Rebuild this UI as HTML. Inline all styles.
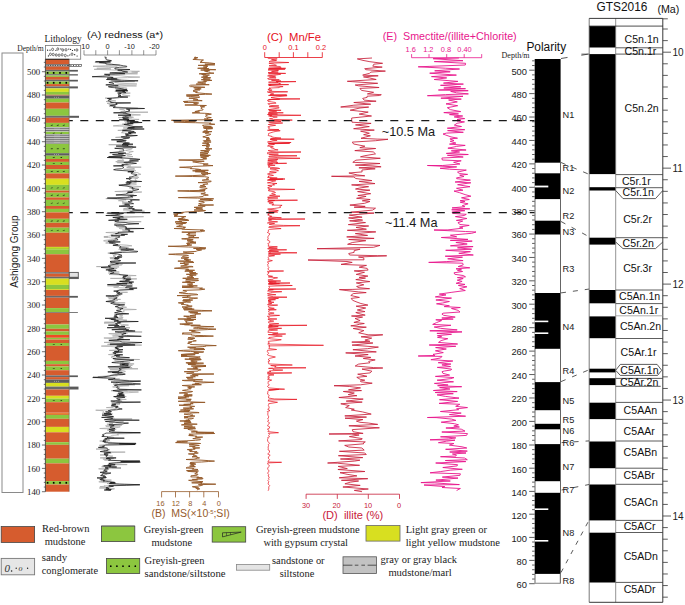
<!DOCTYPE html>
<html><head><meta charset="utf-8"><style>
html,body{margin:0;padding:0;background:#fff;}
svg{display:block;}
</style></head><body>
<svg width="685" height="605" viewBox="0 0 685 605">
<rect width="685" height="605" fill="#fff"/>
<rect x="2.00" y="53.00" width="21.00" height="439.50" fill="none" stroke="#8a8a8a" stroke-width="1"/>
<text transform="translate(18.2,251.5) rotate(-90)" font-size="10" text-anchor="middle" font-family='"Liberation Sans", sans-serif' fill="#222">Ashigong Group</text>
<text x="44.5" y="41.6" font-size="9.6" fill="#222" font-family='"Liberation Serif", serif' textLength="37.3" lengthAdjust="spacingAndGlyphs">Lithology</text>
<text x="17.2" y="50.6" font-size="7.7" fill="#222" font-family='"Liberation Serif", serif' textLength="26.6" lengthAdjust="spacingAndGlyphs">Depth/m</text>
<rect x="45.40" y="45.50" width="35.30" height="13.70" fill="#fff" stroke="#777" stroke-width="0.8"/>
<circle cx="47.6" cy="50.2" r="0.6" fill="#111"/>
<circle cx="50.0" cy="50.2" r="0.6" fill="#111"/>
<ellipse cx="52.6" cy="49.4" rx="1.0" ry="1.25" fill="none" stroke="#222" stroke-width="0.6"/>
<circle cx="55.9" cy="50.5" r="0.6" fill="#111"/>
<ellipse cx="57.8" cy="49.0" rx="1.0" ry="1.25" fill="none" stroke="#222" stroke-width="0.6"/>
<circle cx="60.9" cy="48.9" r="0.6" fill="#111"/>
<ellipse cx="62.8" cy="50.0" rx="1.0" ry="1.25" fill="none" stroke="#222" stroke-width="0.6"/>
<ellipse cx="66.0" cy="49.8" rx="1.0" ry="1.25" fill="none" stroke="#222" stroke-width="0.6"/>
<circle cx="68.8" cy="49.1" r="0.6" fill="#111"/>
<circle cx="70.6" cy="49.3" r="0.6" fill="#111"/>
<circle cx="72.5" cy="50.5" r="0.6" fill="#111"/>
<circle cx="74.6" cy="49.9" r="0.6" fill="#111"/>
<ellipse cx="76.9" cy="50.0" rx="1.0" ry="1.25" fill="none" stroke="#222" stroke-width="0.6"/>
<circle cx="48.4" cy="55.9" r="0.6" fill="#111"/>
<ellipse cx="50.4" cy="54.3" rx="1.0" ry="1.25" fill="none" stroke="#222" stroke-width="0.6"/>
<ellipse cx="53.2" cy="54.5" rx="1.0" ry="1.25" fill="none" stroke="#222" stroke-width="0.6"/>
<ellipse cx="56.2" cy="55.0" rx="1.0" ry="1.25" fill="none" stroke="#222" stroke-width="0.6"/>
<ellipse cx="59.1" cy="55.2" rx="1.0" ry="1.25" fill="none" stroke="#222" stroke-width="0.6"/>
<ellipse cx="62.1" cy="54.8" rx="1.0" ry="1.25" fill="none" stroke="#222" stroke-width="0.6"/>
<ellipse cx="65.3" cy="55.5" rx="1.0" ry="1.25" fill="none" stroke="#222" stroke-width="0.6"/>
<circle cx="67.9" cy="55.8" r="0.6" fill="#111"/>
<circle cx="69.7" cy="55.0" r="0.6" fill="#111"/>
<ellipse cx="72.0" cy="54.2" rx="1.0" ry="1.25" fill="none" stroke="#222" stroke-width="0.6"/>
<circle cx="74.7" cy="54.7" r="0.6" fill="#111"/>
<circle cx="77.1" cy="56.0" r="0.6" fill="#111"/>
<rect x="45.40" y="59.30" width="23.80" height="5.00" fill="#d65c2e" stroke="none" stroke-width="1"/>
<rect x="45.40" y="64.30" width="23.80" height="2.30" fill="#555" stroke="none" stroke-width="1"/>
<rect x="46.50" y="65.05" width="1.00" height="0.80" fill="#eee" stroke="none" stroke-width="1"/>
<rect x="48.90" y="65.05" width="1.00" height="0.80" fill="#eee" stroke="none" stroke-width="1"/>
<rect x="51.30" y="65.05" width="1.00" height="0.80" fill="#eee" stroke="none" stroke-width="1"/>
<rect x="53.70" y="65.05" width="1.00" height="0.80" fill="#eee" stroke="none" stroke-width="1"/>
<rect x="56.10" y="65.05" width="1.00" height="0.80" fill="#eee" stroke="none" stroke-width="1"/>
<rect x="58.50" y="65.05" width="1.00" height="0.80" fill="#eee" stroke="none" stroke-width="1"/>
<rect x="60.90" y="65.05" width="1.00" height="0.80" fill="#eee" stroke="none" stroke-width="1"/>
<rect x="63.30" y="65.05" width="1.00" height="0.80" fill="#eee" stroke="none" stroke-width="1"/>
<rect x="65.70" y="65.05" width="1.00" height="0.80" fill="#eee" stroke="none" stroke-width="1"/>
<rect x="69.20" y="64.40" width="12.10" height="2.10" fill="#fff" stroke="#333" stroke-width="0.6"/>
<rect x="70.50" y="65.05" width="0.90" height="0.80" fill="#111" stroke="none" stroke-width="1"/>
<rect x="73.10" y="65.05" width="0.90" height="0.80" fill="#111" stroke="none" stroke-width="1"/>
<rect x="75.70" y="65.05" width="0.90" height="0.80" fill="#111" stroke="none" stroke-width="1"/>
<rect x="78.30" y="65.05" width="0.90" height="0.80" fill="#111" stroke="none" stroke-width="1"/>
<rect x="45.40" y="66.60" width="23.80" height="3.30" fill="#d65c2e" stroke="none" stroke-width="1"/>
<rect x="45.40" y="69.90" width="23.80" height="1.70" fill="#6a6a6a" stroke="none" stroke-width="1"/>
<rect x="69.20" y="69.90" width="8.70" height="1.70" fill="#5a5a5a" stroke="none" stroke-width="1"/>
<rect x="45.40" y="71.60" width="23.80" height="2.60" fill="#8cc63f" stroke="none" stroke-width="1"/>
<rect x="46.800000000000004" y="72.00" width="1.6" height="1.8" fill="#000"/>
<rect x="52.900000000000006" y="72.00" width="1.6" height="1.8" fill="#000"/>
<rect x="59.2" y="72.00" width="1.6" height="1.8" fill="#000"/>
<rect x="65.5" y="72.00" width="1.6" height="1.8" fill="#000"/>
<rect x="45.40" y="74.20" width="23.80" height="1.30" fill="#6a6a6a" stroke="none" stroke-width="1"/>
<rect x="69.20" y="74.20" width="8.70" height="1.30" fill="#5a5a5a" stroke="none" stroke-width="1"/>
<rect x="45.40" y="75.50" width="23.80" height="1.40" fill="#8cc63f" stroke="none" stroke-width="1"/>
<rect x="45.40" y="76.90" width="23.80" height="2.90" fill="#d65c2e" stroke="none" stroke-width="1"/>
<rect x="45.40" y="79.80" width="23.80" height="1.70" fill="#6a6a6a" stroke="none" stroke-width="1"/>
<rect x="69.20" y="79.80" width="8.70" height="1.70" fill="#5a5a5a" stroke="none" stroke-width="1"/>
<rect x="45.40" y="81.50" width="23.80" height="2.60" fill="#8cc63f" stroke="none" stroke-width="1"/>
<rect x="46.800000000000004" y="81.90" width="1.6" height="1.8" fill="#000"/>
<rect x="52.900000000000006" y="81.90" width="1.6" height="1.8" fill="#000"/>
<rect x="59.2" y="81.90" width="1.6" height="1.8" fill="#000"/>
<rect x="65.5" y="81.90" width="1.6" height="1.8" fill="#000"/>
<rect x="45.40" y="84.10" width="23.80" height="2.30" fill="#d65c2e" stroke="none" stroke-width="1"/>
<rect x="45.40" y="86.40" width="23.80" height="2.00" fill="#6a6a6a" stroke="none" stroke-width="1"/>
<rect x="69.20" y="86.40" width="8.70" height="2.00" fill="#5a5a5a" stroke="none" stroke-width="1"/>
<rect x="45.40" y="88.40" width="23.80" height="3.50" fill="#d8df20" stroke="none" stroke-width="1"/>
<rect x="45.40" y="91.90" width="23.80" height="2.90" fill="#8cc63f" stroke="none" stroke-width="1"/>
<rect x="45.40" y="94.80" width="23.80" height="0.80" fill="#d65c2e" stroke="none" stroke-width="1"/>
<rect x="45.40" y="95.60" width="23.80" height="3.10" fill="#5e5e5e" stroke="none" stroke-width="1"/>
<circle cx="54.5" cy="97.15" r="0.45" fill="#ddd"/>
<circle cx="56.5" cy="97.15" r="0.45" fill="#ddd"/>
<circle cx="58.5" cy="97.15" r="0.45" fill="#ddd"/>
<rect x="45.40" y="98.70" width="23.80" height="3.80" fill="#8cc63f" stroke="none" stroke-width="1"/>
<rect x="45.40" y="102.50" width="23.80" height="6.30" fill="#d65c2e" stroke="none" stroke-width="1"/>
<rect x="45.40" y="108.80" width="23.80" height="7.00" fill="#8cc63f" stroke="none" stroke-width="1"/>
<rect x="45.40" y="115.80" width="23.80" height="2.00" fill="#6a6a6a" stroke="none" stroke-width="1"/>
<rect x="69.20" y="115.80" width="9.80" height="2.00" fill="#5a5a5a" stroke="none" stroke-width="1"/>
<rect x="45.40" y="117.80" width="23.80" height="5.10" fill="#d65c2e" stroke="none" stroke-width="1"/>
<rect x="45.40" y="122.90" width="23.80" height="4.30" fill="#8cc63f" stroke="none" stroke-width="1"/>
<path d="M50.3,125.6 L52.7,124.6 L52.3,125.7Z" fill="#111"/>
<path d="M56.3,125.6 L58.7,124.6 L58.3,125.7Z" fill="#111"/>
<path d="M62.3,125.6 L64.7,124.6 L64.3,125.7Z" fill="#111"/>
<rect x="45.40" y="127.20" width="23.80" height="4.60" fill="#bdbdbd" stroke="none" stroke-width="1"/>
<rect x="45.40" y="127.90" width="23.80" height="0.90" fill="#6f6f6f" stroke="none" stroke-width="1"/>
<rect x="45.40" y="130.10" width="23.80" height="0.90" fill="#6f6f6f" stroke="none" stroke-width="1"/>
<circle cx="55.0" cy="128.80" r="0.35" fill="#fff"/>
<circle cx="55.0" cy="131.00" r="0.35" fill="#fff"/>
<circle cx="57.0" cy="128.80" r="0.35" fill="#fff"/>
<circle cx="57.0" cy="131.00" r="0.35" fill="#fff"/>
<circle cx="59.0" cy="128.80" r="0.35" fill="#fff"/>
<circle cx="59.0" cy="131.00" r="0.35" fill="#fff"/>
<rect x="45.40" y="131.80" width="23.80" height="2.30" fill="#8cc63f" stroke="none" stroke-width="1"/>
<path d="M52.3,133.4 L54.7,132.4 L54.3,133.5Z" fill="#111"/>
<path d="M59.8,133.4 L62.2,132.4 L61.8,133.5Z" fill="#111"/>
<rect x="45.40" y="134.10" width="23.80" height="9.80" fill="#bdbdbd" stroke="none" stroke-width="1"/>
<rect x="45.40" y="134.80" width="23.80" height="0.90" fill="#6f6f6f" stroke="none" stroke-width="1"/>
<rect x="45.40" y="137.00" width="23.80" height="0.90" fill="#6f6f6f" stroke="none" stroke-width="1"/>
<rect x="45.40" y="139.20" width="23.80" height="0.90" fill="#6f6f6f" stroke="none" stroke-width="1"/>
<rect x="45.40" y="141.40" width="23.80" height="0.90" fill="#6f6f6f" stroke="none" stroke-width="1"/>
<rect x="45.40" y="143.60" width="23.80" height="0.90" fill="#6f6f6f" stroke="none" stroke-width="1"/>
<circle cx="55.0" cy="135.70" r="0.35" fill="#fff"/>
<circle cx="55.0" cy="137.90" r="0.35" fill="#fff"/>
<circle cx="55.0" cy="140.10" r="0.35" fill="#fff"/>
<circle cx="55.0" cy="142.30" r="0.35" fill="#fff"/>
<circle cx="57.0" cy="135.70" r="0.35" fill="#fff"/>
<circle cx="57.0" cy="137.90" r="0.35" fill="#fff"/>
<circle cx="57.0" cy="140.10" r="0.35" fill="#fff"/>
<circle cx="57.0" cy="142.30" r="0.35" fill="#fff"/>
<circle cx="59.0" cy="135.70" r="0.35" fill="#fff"/>
<circle cx="59.0" cy="137.90" r="0.35" fill="#fff"/>
<circle cx="59.0" cy="140.10" r="0.35" fill="#fff"/>
<circle cx="59.0" cy="142.30" r="0.35" fill="#fff"/>
<rect x="45.40" y="143.90" width="23.80" height="9.30" fill="#8cc63f" stroke="none" stroke-width="1"/>
<path d="M50.3,149.1 L52.7,148.1 L52.3,149.2Z" fill="#111"/>
<path d="M56.3,149.1 L58.7,148.1 L58.3,149.2Z" fill="#111"/>
<path d="M62.3,149.1 L64.7,148.1 L64.3,149.2Z" fill="#111"/>
<rect x="45.40" y="153.20" width="23.80" height="2.50" fill="#5e5e5e" stroke="none" stroke-width="1"/>
<circle cx="54.5" cy="154.45" r="0.45" fill="#ddd"/>
<circle cx="56.5" cy="154.45" r="0.45" fill="#ddd"/>
<circle cx="58.5" cy="154.45" r="0.45" fill="#ddd"/>
<rect x="45.40" y="155.70" width="23.80" height="3.30" fill="#8cc63f" stroke="none" stroke-width="1"/>
<path d="M52.3,157.8 L54.7,156.8 L54.3,157.9Z" fill="#111"/>
<path d="M59.8,157.8 L62.2,156.8 L61.8,157.9Z" fill="#111"/>
<rect x="45.40" y="159.00" width="23.80" height="2.90" fill="#d65c2e" stroke="none" stroke-width="1"/>
<rect x="45.40" y="161.90" width="23.80" height="3.10" fill="#8cc63f" stroke="none" stroke-width="1"/>
<path d="M52.3,163.9 L54.7,162.9 L54.3,164.0Z" fill="#111"/>
<path d="M59.8,163.9 L62.2,162.9 L61.8,164.0Z" fill="#111"/>
<rect x="45.40" y="165.00" width="23.80" height="4.20" fill="#d65c2e" stroke="none" stroke-width="1"/>
<rect x="45.40" y="169.20" width="23.80" height="4.20" fill="#8cc63f" stroke="none" stroke-width="1"/>
<path d="M50.3,171.8 L52.7,170.8 L52.3,171.9Z" fill="#111"/>
<path d="M56.3,171.8 L58.7,170.8 L58.3,171.9Z" fill="#111"/>
<path d="M62.3,171.8 L64.7,170.8 L64.3,171.9Z" fill="#111"/>
<rect x="45.40" y="173.40" width="23.80" height="5.30" fill="#d65c2e" stroke="none" stroke-width="1"/>
<rect x="45.40" y="178.70" width="23.80" height="6.20" fill="#d8df20" stroke="none" stroke-width="1"/>
<rect x="45.40" y="184.90" width="23.80" height="5.70" fill="#8cc63f" stroke="none" stroke-width="1"/>
<path d="M50.3,188.2 L52.7,187.2 L52.3,188.3Z" fill="#111"/>
<path d="M56.3,188.2 L58.7,187.2 L58.3,188.3Z" fill="#111"/>
<path d="M62.3,188.2 L64.7,187.2 L64.3,188.3Z" fill="#111"/>
<rect x="45.40" y="190.60" width="23.80" height="2.10" fill="#d65c2e" stroke="none" stroke-width="1"/>
<rect x="45.40" y="192.70" width="23.80" height="4.70" fill="#8cc63f" stroke="none" stroke-width="1"/>
<path d="M50.3,195.6 L52.7,194.6 L52.3,195.7Z" fill="#111"/>
<path d="M56.3,195.6 L58.7,194.6 L58.3,195.7Z" fill="#111"/>
<path d="M62.3,195.6 L64.7,194.6 L64.3,195.7Z" fill="#111"/>
<rect x="45.40" y="197.40" width="23.80" height="2.50" fill="#d65c2e" stroke="none" stroke-width="1"/>
<rect x="45.40" y="199.90" width="23.80" height="6.10" fill="#8cc63f" stroke="none" stroke-width="1"/>
<path d="M50.3,203.4 L52.7,202.4 L52.3,203.5Z" fill="#111"/>
<path d="M56.3,203.4 L58.7,202.4 L58.3,203.5Z" fill="#111"/>
<path d="M62.3,203.4 L64.7,202.4 L64.3,203.5Z" fill="#111"/>
<rect x="45.40" y="206.00" width="23.80" height="2.90" fill="#d65c2e" stroke="none" stroke-width="1"/>
<rect x="45.40" y="208.90" width="23.80" height="3.50" fill="#8cc63f" stroke="none" stroke-width="1"/>
<rect x="45.40" y="212.40" width="23.80" height="6.40" fill="#d65c2e" stroke="none" stroke-width="1"/>
<rect x="45.40" y="218.80" width="23.80" height="4.00" fill="#8cc63f" stroke="none" stroke-width="1"/>
<path d="M50.3,221.3 L52.7,220.3 L52.3,221.4Z" fill="#111"/>
<path d="M56.3,221.3 L58.7,220.3 L58.3,221.4Z" fill="#111"/>
<path d="M62.3,221.3 L64.7,220.3 L64.3,221.4Z" fill="#111"/>
<rect x="45.40" y="222.80" width="23.80" height="4.90" fill="#d65c2e" stroke="none" stroke-width="1"/>
<rect x="45.40" y="227.70" width="23.80" height="5.00" fill="#8cc63f" stroke="none" stroke-width="1"/>
<path d="M50.3,230.7 L52.7,229.7 L52.3,230.8Z" fill="#111"/>
<path d="M56.3,230.7 L58.7,229.7 L58.3,230.8Z" fill="#111"/>
<path d="M62.3,230.7 L64.7,229.7 L64.3,230.8Z" fill="#111"/>
<rect x="45.40" y="232.70" width="23.80" height="14.20" fill="#d65c2e" stroke="none" stroke-width="1"/>
<rect x="45.40" y="246.90" width="23.80" height="2.70" fill="#8cc63f" stroke="none" stroke-width="1"/>
<rect x="45.40" y="247.20" width="23.80" height="0.80" fill="#d8df20" stroke="none" stroke-width="1"/>
<rect x="45.40" y="248.60" width="23.80" height="0.70" fill="#d8df20" stroke="none" stroke-width="1"/>
<rect x="45.40" y="249.60" width="23.80" height="4.70" fill="#8cc63f" stroke="none" stroke-width="1"/>
<rect x="45.40" y="254.30" width="23.80" height="17.90" fill="#d65c2e" stroke="none" stroke-width="1"/>
<rect x="45.40" y="272.20" width="23.80" height="1.50" fill="#6a6a6a" stroke="none" stroke-width="1"/>
<rect x="69.20" y="272.40" width="9.10" height="6.20" fill="#e2e2e2" stroke="#555" stroke-width="0.9"/>
<rect x="45.40" y="273.70" width="23.80" height="3.10" fill="#d65c2e" stroke="none" stroke-width="1"/>
<rect x="45.40" y="276.80" width="23.80" height="1.80" fill="#6a6a6a" stroke="none" stroke-width="1"/>
<rect x="69.20" y="276.80" width="9.10" height="1.80" fill="#5a5a5a" stroke="none" stroke-width="1"/>
<rect x="45.40" y="278.60" width="23.80" height="6.30" fill="#d8df20" stroke="none" stroke-width="1"/>
<rect x="45.40" y="284.90" width="23.80" height="4.10" fill="#8cc63f" stroke="none" stroke-width="1"/>
<rect x="45.40" y="289.00" width="23.80" height="0.90" fill="#d8df20" stroke="none" stroke-width="1"/>
<rect x="45.40" y="289.90" width="23.80" height="6.00" fill="#d65c2e" stroke="none" stroke-width="1"/>
<rect x="45.40" y="295.90" width="23.80" height="1.80" fill="#6a6a6a" stroke="none" stroke-width="1"/>
<rect x="69.20" y="295.90" width="8.70" height="1.80" fill="#5a5a5a" stroke="none" stroke-width="1"/>
<rect x="45.40" y="297.70" width="23.80" height="10.40" fill="#d65c2e" stroke="none" stroke-width="1"/>
<rect x="45.40" y="308.10" width="23.80" height="4.00" fill="#8cc63f" stroke="none" stroke-width="1"/>
<rect x="45.40" y="312.10" width="23.80" height="0.80" fill="#6a6a6a" stroke="none" stroke-width="1"/>
<rect x="69.20" y="312.10" width="8.70" height="0.80" fill="#5a5a5a" stroke="none" stroke-width="1"/>
<rect x="45.40" y="312.90" width="23.80" height="11.60" fill="#d65c2e" stroke="none" stroke-width="1"/>
<rect x="45.40" y="324.50" width="23.80" height="4.30" fill="#8cc63f" stroke="none" stroke-width="1"/>
<rect x="45.40" y="328.80" width="23.80" height="2.60" fill="#d65c2e" stroke="none" stroke-width="1"/>
<rect x="45.40" y="331.40" width="23.80" height="3.50" fill="#8cc63f" stroke="none" stroke-width="1"/>
<rect x="45.40" y="334.90" width="23.80" height="2.90" fill="#f04a25" stroke="none" stroke-width="1"/>
<rect x="45.40" y="337.80" width="23.80" height="1.70" fill="#8cc63f" stroke="none" stroke-width="1"/>
<rect x="45.40" y="339.50" width="23.80" height="3.50" fill="#d65c2e" stroke="none" stroke-width="1"/>
<rect x="45.40" y="343.00" width="23.80" height="2.90" fill="#8cc63f" stroke="none" stroke-width="1"/>
<path d="M52.3,344.9 L54.7,343.9 L54.3,345.1Z" fill="#111"/>
<path d="M59.8,344.9 L62.2,343.9 L61.8,345.1Z" fill="#111"/>
<rect x="45.40" y="345.90" width="23.80" height="15.00" fill="#d65c2e" stroke="none" stroke-width="1"/>
<rect x="45.40" y="360.90" width="23.80" height="3.30" fill="#8cc63f" stroke="none" stroke-width="1"/>
<rect x="45.40" y="364.20" width="23.80" height="2.30" fill="#d65c2e" stroke="none" stroke-width="1"/>
<rect x="45.40" y="366.50" width="23.80" height="3.70" fill="#8cc63f" stroke="none" stroke-width="1"/>
<path d="M52.3,368.9 L54.7,367.9 L54.3,369.0Z" fill="#111"/>
<path d="M59.8,368.9 L62.2,367.9 L61.8,369.0Z" fill="#111"/>
<rect x="45.40" y="370.20" width="23.80" height="5.20" fill="#d65c2e" stroke="none" stroke-width="1"/>
<rect x="45.40" y="375.40" width="23.80" height="1.70" fill="#6a6a6a" stroke="none" stroke-width="1"/>
<rect x="69.20" y="375.40" width="8.70" height="1.70" fill="#5a5a5a" stroke="none" stroke-width="1"/>
<rect x="45.40" y="377.10" width="23.80" height="2.50" fill="#d65c2e" stroke="none" stroke-width="1"/>
<rect x="45.40" y="379.60" width="23.80" height="3.30" fill="#5e5e5e" stroke="none" stroke-width="1"/>
<circle cx="54.5" cy="381.25" r="0.45" fill="#ddd"/>
<circle cx="56.5" cy="381.25" r="0.45" fill="#ddd"/>
<circle cx="58.5" cy="381.25" r="0.45" fill="#ddd"/>
<rect x="45.40" y="382.90" width="23.80" height="3.70" fill="#d8df20" stroke="none" stroke-width="1"/>
<rect x="45.40" y="386.60" width="23.80" height="2.90" fill="#6a6a6a" stroke="none" stroke-width="1"/>
<rect x="69.20" y="386.60" width="9.30" height="2.90" fill="#5a5a5a" stroke="none" stroke-width="1"/>
<rect x="45.40" y="389.50" width="23.80" height="6.30" fill="#d65c2e" stroke="none" stroke-width="1"/>
<rect x="45.40" y="395.80" width="23.80" height="2.90" fill="#d8df20" stroke="none" stroke-width="1"/>
<rect x="45.40" y="398.70" width="23.80" height="3.50" fill="#8cc63f" stroke="none" stroke-width="1"/>
<path d="M52.3,400.9 L54.7,399.9 L54.3,401.1Z" fill="#111"/>
<path d="M59.8,400.9 L62.2,399.9 L61.8,401.1Z" fill="#111"/>
<rect x="45.40" y="402.20" width="23.80" height="10.40" fill="#d65c2e" stroke="none" stroke-width="1"/>
<rect x="45.40" y="412.60" width="23.80" height="2.30" fill="#d65c2e" stroke="none" stroke-width="1"/>
<rect x="45.40" y="413.20" width="23.80" height="1.00" fill="#f08a3a" stroke="none" stroke-width="1"/>
<rect x="45.40" y="414.90" width="23.80" height="3.90" fill="#8cc63f" stroke="none" stroke-width="1"/>
<rect x="45.40" y="418.80" width="23.80" height="8.10" fill="#d65c2e" stroke="none" stroke-width="1"/>
<rect x="45.40" y="426.90" width="23.80" height="5.40" fill="#d8df20" stroke="none" stroke-width="1"/>
<rect x="45.40" y="432.30" width="23.80" height="9.90" fill="#d65c2e" stroke="none" stroke-width="1"/>
<rect x="45.40" y="442.20" width="23.80" height="2.60" fill="#8cc63f" stroke="none" stroke-width="1"/>
<rect x="45.40" y="444.80" width="23.80" height="13.90" fill="#d65c2e" stroke="none" stroke-width="1"/>
<rect x="45.40" y="458.70" width="23.80" height="4.70" fill="#8cc63f" stroke="none" stroke-width="1"/>
<rect x="45.40" y="463.40" width="23.80" height="17.70" fill="#d65c2e" stroke="none" stroke-width="1"/>
<rect x="45.40" y="481.10" width="23.80" height="3.40" fill="#8cc63f" stroke="none" stroke-width="1"/>
<rect x="46.800000000000004" y="481.90" width="1.6" height="1.8" fill="#000"/>
<rect x="52.900000000000006" y="481.90" width="1.6" height="1.8" fill="#000"/>
<rect x="59.2" y="481.90" width="1.6" height="1.8" fill="#000"/>
<rect x="65.5" y="481.90" width="1.6" height="1.8" fill="#000"/>
<rect x="45.40" y="484.50" width="23.80" height="7.20" fill="#d65c2e" stroke="none" stroke-width="1"/>
<line x1="45.40" y1="59.30" x2="69.20" y2="59.30" stroke="#111" stroke-width="0.9"/>
<line x1="45.40" y1="59.30" x2="45.40" y2="491.70" stroke="#333" stroke-width="0.8"/>
<line x1="69.20" y1="59.30" x2="69.20" y2="491.70" stroke="#555" stroke-width="0.5"/>
<line x1="43.80" y1="62.37" x2="45.40" y2="62.37" stroke="#333" stroke-width="0.7"/>
<line x1="43.80" y1="67.03" x2="45.40" y2="67.03" stroke="#333" stroke-width="0.7"/>
<line x1="41.90" y1="71.70" x2="45.40" y2="71.70" stroke="#333" stroke-width="0.7"/>
<text x="40.2" y="75.0" font-size="9.0" fill="#222" font-family='"Liberation Serif", serif' text-anchor="end" textLength="13.2" lengthAdjust="spacingAndGlyphs">500</text>
<line x1="43.80" y1="76.37" x2="45.40" y2="76.37" stroke="#333" stroke-width="0.7"/>
<line x1="43.80" y1="81.03" x2="45.40" y2="81.03" stroke="#333" stroke-width="0.7"/>
<line x1="43.80" y1="85.70" x2="45.40" y2="85.70" stroke="#333" stroke-width="0.7"/>
<line x1="43.80" y1="90.37" x2="45.40" y2="90.37" stroke="#333" stroke-width="0.7"/>
<line x1="41.90" y1="95.03" x2="45.40" y2="95.03" stroke="#333" stroke-width="0.7"/>
<text x="40.2" y="98.334" font-size="9.0" fill="#222" font-family='"Liberation Serif", serif' text-anchor="end" textLength="13.2" lengthAdjust="spacingAndGlyphs">480</text>
<line x1="43.80" y1="99.70" x2="45.40" y2="99.70" stroke="#333" stroke-width="0.7"/>
<line x1="43.80" y1="104.37" x2="45.40" y2="104.37" stroke="#333" stroke-width="0.7"/>
<line x1="43.80" y1="109.03" x2="45.40" y2="109.03" stroke="#333" stroke-width="0.7"/>
<line x1="43.80" y1="113.70" x2="45.40" y2="113.70" stroke="#333" stroke-width="0.7"/>
<line x1="41.90" y1="118.37" x2="45.40" y2="118.37" stroke="#333" stroke-width="0.7"/>
<text x="40.2" y="121.668" font-size="9.0" fill="#222" font-family='"Liberation Serif", serif' text-anchor="end" textLength="13.2" lengthAdjust="spacingAndGlyphs">460</text>
<line x1="43.80" y1="123.03" x2="45.40" y2="123.03" stroke="#333" stroke-width="0.7"/>
<line x1="43.80" y1="127.70" x2="45.40" y2="127.70" stroke="#333" stroke-width="0.7"/>
<line x1="43.80" y1="132.37" x2="45.40" y2="132.37" stroke="#333" stroke-width="0.7"/>
<line x1="43.80" y1="137.04" x2="45.40" y2="137.04" stroke="#333" stroke-width="0.7"/>
<line x1="41.90" y1="141.70" x2="45.40" y2="141.70" stroke="#333" stroke-width="0.7"/>
<text x="40.2" y="145.002" font-size="9.0" fill="#222" font-family='"Liberation Serif", serif' text-anchor="end" textLength="13.2" lengthAdjust="spacingAndGlyphs">440</text>
<line x1="43.80" y1="146.37" x2="45.40" y2="146.37" stroke="#333" stroke-width="0.7"/>
<line x1="43.80" y1="151.04" x2="45.40" y2="151.04" stroke="#333" stroke-width="0.7"/>
<line x1="43.80" y1="155.70" x2="45.40" y2="155.70" stroke="#333" stroke-width="0.7"/>
<line x1="43.80" y1="160.37" x2="45.40" y2="160.37" stroke="#333" stroke-width="0.7"/>
<line x1="41.90" y1="165.04" x2="45.40" y2="165.04" stroke="#333" stroke-width="0.7"/>
<text x="40.2" y="168.336" font-size="9.0" fill="#222" font-family='"Liberation Serif", serif' text-anchor="end" textLength="13.2" lengthAdjust="spacingAndGlyphs">420</text>
<line x1="43.80" y1="169.70" x2="45.40" y2="169.70" stroke="#333" stroke-width="0.7"/>
<line x1="43.80" y1="174.37" x2="45.40" y2="174.37" stroke="#333" stroke-width="0.7"/>
<line x1="43.80" y1="179.04" x2="45.40" y2="179.04" stroke="#333" stroke-width="0.7"/>
<line x1="43.80" y1="183.70" x2="45.40" y2="183.70" stroke="#333" stroke-width="0.7"/>
<line x1="41.90" y1="188.37" x2="45.40" y2="188.37" stroke="#333" stroke-width="0.7"/>
<text x="40.2" y="191.67000000000002" font-size="9.0" fill="#222" font-family='"Liberation Serif", serif' text-anchor="end" textLength="13.2" lengthAdjust="spacingAndGlyphs">400</text>
<line x1="43.80" y1="193.04" x2="45.40" y2="193.04" stroke="#333" stroke-width="0.7"/>
<line x1="43.80" y1="197.70" x2="45.40" y2="197.70" stroke="#333" stroke-width="0.7"/>
<line x1="43.80" y1="202.37" x2="45.40" y2="202.37" stroke="#333" stroke-width="0.7"/>
<line x1="43.80" y1="207.04" x2="45.40" y2="207.04" stroke="#333" stroke-width="0.7"/>
<line x1="41.90" y1="211.70" x2="45.40" y2="211.70" stroke="#333" stroke-width="0.7"/>
<text x="40.2" y="215.00400000000002" font-size="9.0" fill="#222" font-family='"Liberation Serif", serif' text-anchor="end" textLength="13.2" lengthAdjust="spacingAndGlyphs">380</text>
<line x1="43.80" y1="216.37" x2="45.40" y2="216.37" stroke="#333" stroke-width="0.7"/>
<line x1="43.80" y1="221.04" x2="45.40" y2="221.04" stroke="#333" stroke-width="0.7"/>
<line x1="43.80" y1="225.70" x2="45.40" y2="225.70" stroke="#333" stroke-width="0.7"/>
<line x1="43.80" y1="230.37" x2="45.40" y2="230.37" stroke="#333" stroke-width="0.7"/>
<line x1="41.90" y1="235.04" x2="45.40" y2="235.04" stroke="#333" stroke-width="0.7"/>
<text x="40.2" y="238.33800000000002" font-size="9.0" fill="#222" font-family='"Liberation Serif", serif' text-anchor="end" textLength="13.2" lengthAdjust="spacingAndGlyphs">360</text>
<line x1="43.80" y1="239.70" x2="45.40" y2="239.70" stroke="#333" stroke-width="0.7"/>
<line x1="43.80" y1="244.37" x2="45.40" y2="244.37" stroke="#333" stroke-width="0.7"/>
<line x1="43.80" y1="249.04" x2="45.40" y2="249.04" stroke="#333" stroke-width="0.7"/>
<line x1="43.80" y1="253.71" x2="45.40" y2="253.71" stroke="#333" stroke-width="0.7"/>
<line x1="41.90" y1="258.37" x2="45.40" y2="258.37" stroke="#333" stroke-width="0.7"/>
<text x="40.2" y="261.672" font-size="9.0" fill="#222" font-family='"Liberation Serif", serif' text-anchor="end" textLength="13.2" lengthAdjust="spacingAndGlyphs">340</text>
<line x1="43.80" y1="263.04" x2="45.40" y2="263.04" stroke="#333" stroke-width="0.7"/>
<line x1="43.80" y1="267.71" x2="45.40" y2="267.71" stroke="#333" stroke-width="0.7"/>
<line x1="43.80" y1="272.37" x2="45.40" y2="272.37" stroke="#333" stroke-width="0.7"/>
<line x1="43.80" y1="277.04" x2="45.40" y2="277.04" stroke="#333" stroke-width="0.7"/>
<line x1="41.90" y1="281.71" x2="45.40" y2="281.71" stroke="#333" stroke-width="0.7"/>
<text x="40.2" y="285.00600000000003" font-size="9.0" fill="#222" font-family='"Liberation Serif", serif' text-anchor="end" textLength="13.2" lengthAdjust="spacingAndGlyphs">320</text>
<line x1="43.80" y1="286.37" x2="45.40" y2="286.37" stroke="#333" stroke-width="0.7"/>
<line x1="43.80" y1="291.04" x2="45.40" y2="291.04" stroke="#333" stroke-width="0.7"/>
<line x1="43.80" y1="295.71" x2="45.40" y2="295.71" stroke="#333" stroke-width="0.7"/>
<line x1="43.80" y1="300.37" x2="45.40" y2="300.37" stroke="#333" stroke-width="0.7"/>
<line x1="41.90" y1="305.04" x2="45.40" y2="305.04" stroke="#333" stroke-width="0.7"/>
<text x="40.2" y="308.34000000000003" font-size="9.0" fill="#222" font-family='"Liberation Serif", serif' text-anchor="end" textLength="13.2" lengthAdjust="spacingAndGlyphs">300</text>
<line x1="43.80" y1="309.71" x2="45.40" y2="309.71" stroke="#333" stroke-width="0.7"/>
<line x1="43.80" y1="314.37" x2="45.40" y2="314.37" stroke="#333" stroke-width="0.7"/>
<line x1="43.80" y1="319.04" x2="45.40" y2="319.04" stroke="#333" stroke-width="0.7"/>
<line x1="43.80" y1="323.71" x2="45.40" y2="323.71" stroke="#333" stroke-width="0.7"/>
<line x1="41.90" y1="328.37" x2="45.40" y2="328.37" stroke="#333" stroke-width="0.7"/>
<text x="40.2" y="331.67400000000004" font-size="9.0" fill="#222" font-family='"Liberation Serif", serif' text-anchor="end" textLength="13.2" lengthAdjust="spacingAndGlyphs">280</text>
<line x1="43.80" y1="333.04" x2="45.40" y2="333.04" stroke="#333" stroke-width="0.7"/>
<line x1="43.80" y1="337.71" x2="45.40" y2="337.71" stroke="#333" stroke-width="0.7"/>
<line x1="43.80" y1="342.37" x2="45.40" y2="342.37" stroke="#333" stroke-width="0.7"/>
<line x1="43.80" y1="347.04" x2="45.40" y2="347.04" stroke="#333" stroke-width="0.7"/>
<line x1="41.90" y1="351.71" x2="45.40" y2="351.71" stroke="#333" stroke-width="0.7"/>
<text x="40.2" y="355.00800000000004" font-size="9.0" fill="#222" font-family='"Liberation Serif", serif' text-anchor="end" textLength="13.2" lengthAdjust="spacingAndGlyphs">260</text>
<line x1="43.80" y1="356.37" x2="45.40" y2="356.37" stroke="#333" stroke-width="0.7"/>
<line x1="43.80" y1="361.04" x2="45.40" y2="361.04" stroke="#333" stroke-width="0.7"/>
<line x1="43.80" y1="365.71" x2="45.40" y2="365.71" stroke="#333" stroke-width="0.7"/>
<line x1="43.80" y1="370.38" x2="45.40" y2="370.38" stroke="#333" stroke-width="0.7"/>
<line x1="41.90" y1="375.04" x2="45.40" y2="375.04" stroke="#333" stroke-width="0.7"/>
<text x="40.2" y="378.34200000000004" font-size="9.0" fill="#222" font-family='"Liberation Serif", serif' text-anchor="end" textLength="13.2" lengthAdjust="spacingAndGlyphs">240</text>
<line x1="43.80" y1="379.71" x2="45.40" y2="379.71" stroke="#333" stroke-width="0.7"/>
<line x1="43.80" y1="384.38" x2="45.40" y2="384.38" stroke="#333" stroke-width="0.7"/>
<line x1="43.80" y1="389.04" x2="45.40" y2="389.04" stroke="#333" stroke-width="0.7"/>
<line x1="43.80" y1="393.71" x2="45.40" y2="393.71" stroke="#333" stroke-width="0.7"/>
<line x1="41.90" y1="398.38" x2="45.40" y2="398.38" stroke="#333" stroke-width="0.7"/>
<text x="40.2" y="401.67600000000004" font-size="9.0" fill="#222" font-family='"Liberation Serif", serif' text-anchor="end" textLength="13.2" lengthAdjust="spacingAndGlyphs">220</text>
<line x1="43.80" y1="403.04" x2="45.40" y2="403.04" stroke="#333" stroke-width="0.7"/>
<line x1="43.80" y1="407.71" x2="45.40" y2="407.71" stroke="#333" stroke-width="0.7"/>
<line x1="43.80" y1="412.38" x2="45.40" y2="412.38" stroke="#333" stroke-width="0.7"/>
<line x1="43.80" y1="417.04" x2="45.40" y2="417.04" stroke="#333" stroke-width="0.7"/>
<line x1="41.90" y1="421.71" x2="45.40" y2="421.71" stroke="#333" stroke-width="0.7"/>
<text x="40.2" y="425.01000000000005" font-size="9.0" fill="#222" font-family='"Liberation Serif", serif' text-anchor="end" textLength="13.2" lengthAdjust="spacingAndGlyphs">200</text>
<line x1="43.80" y1="426.38" x2="45.40" y2="426.38" stroke="#333" stroke-width="0.7"/>
<line x1="43.80" y1="431.04" x2="45.40" y2="431.04" stroke="#333" stroke-width="0.7"/>
<line x1="43.80" y1="435.71" x2="45.40" y2="435.71" stroke="#333" stroke-width="0.7"/>
<line x1="43.80" y1="440.38" x2="45.40" y2="440.38" stroke="#333" stroke-width="0.7"/>
<line x1="41.90" y1="445.04" x2="45.40" y2="445.04" stroke="#333" stroke-width="0.7"/>
<text x="40.2" y="448.34400000000005" font-size="9.0" fill="#222" font-family='"Liberation Serif", serif' text-anchor="end" textLength="13.2" lengthAdjust="spacingAndGlyphs">180</text>
<line x1="43.80" y1="449.71" x2="45.40" y2="449.71" stroke="#333" stroke-width="0.7"/>
<line x1="43.80" y1="454.38" x2="45.40" y2="454.38" stroke="#333" stroke-width="0.7"/>
<line x1="43.80" y1="459.04" x2="45.40" y2="459.04" stroke="#333" stroke-width="0.7"/>
<line x1="43.80" y1="463.71" x2="45.40" y2="463.71" stroke="#333" stroke-width="0.7"/>
<line x1="41.90" y1="468.38" x2="45.40" y2="468.38" stroke="#333" stroke-width="0.7"/>
<text x="40.2" y="471.678" font-size="9.0" fill="#222" font-family='"Liberation Serif", serif' text-anchor="end" textLength="13.2" lengthAdjust="spacingAndGlyphs">160</text>
<line x1="43.80" y1="473.04" x2="45.40" y2="473.04" stroke="#333" stroke-width="0.7"/>
<line x1="43.80" y1="477.71" x2="45.40" y2="477.71" stroke="#333" stroke-width="0.7"/>
<line x1="43.80" y1="482.38" x2="45.40" y2="482.38" stroke="#333" stroke-width="0.7"/>
<line x1="43.80" y1="487.05" x2="45.40" y2="487.05" stroke="#333" stroke-width="0.7"/>
<line x1="41.90" y1="491.71" x2="45.40" y2="491.71" stroke="#333" stroke-width="0.7"/>
<text x="40.2" y="495.012" font-size="9.0" fill="#222" font-family='"Liberation Serif", serif' text-anchor="end" textLength="13.2" lengthAdjust="spacingAndGlyphs">140</text>
<polyline points="105.6,57.0 105.6,57.7 105.9,58.3 106.6,58.6 105.6,58.9 106.1,59.8 107.7,60.2 111.6,61.0 107.7,61.3 110.8,62.0 94.9,62.4 99.2,62.9 102.4,63.2 108.3,63.9 114.2,64.6 119.8,65.2 105.9,65.7 93.0,66.3 105.8,66.6 117.3,67.0 108.7,67.7 96.8,68.3 109.1,68.6 111.0,69.0 94.1,69.3 111.2,69.9 116.8,70.3 120.4,70.8 139.5,71.3 131.6,71.9 137.7,72.6 132.1,73.0 119.4,73.2 137.5,73.8 115.3,74.3 108.9,75.1 120.2,75.7 126.9,76.5 139.8,77.1 127.5,77.6 111.0,78.1 115.2,78.7 118.7,79.4 110.5,79.8 120.6,80.2 111.4,80.5 118.8,80.9 120.6,81.3 134.7,81.6 114.8,81.9 114.9,82.3 119.5,83.2 136.9,84.0 114.1,84.5 117.8,84.8 126.1,85.6 136.5,85.9 118.9,86.2 119.3,86.7 115.0,87.1 124.4,87.6 127.1,88.3 115.2,88.6 118.8,89.3 126.7,90.1 128.1,90.7 114.8,91.3 127.8,91.6 119.2,92.3 130.3,93.1 123.5,93.9 122.4,94.7 124.4,95.2 130.1,95.9 123.2,96.2 122.0,96.5 118.7,96.8 116.5,97.5 105.1,98.1 108.9,98.4 110.7,99.1 108.9,99.6 110.4,100.1 115.8,100.9 106.0,101.5 108.3,101.8 112.0,102.1 113.5,102.6 109.4,103.2 107.0,103.4 116.7,104.3 108.8,104.8 115.6,105.6 109.0,106.0 109.4,106.3 114.2,106.6 117.7,107.0 123.6,107.6 137.9,108.2 124.2,108.7 119.4,109.2 124.2,109.8 124.3,110.2 125.1,111.0 120.7,111.5 122.0,111.8 148.0,112.2 126.6,112.7 124.6,113.2 123.3,113.5 131.5,114.3 140.5,114.9 131.4,115.3 129.5,115.8 130.7,116.4 130.6,116.7 133.5,117.3 118.4,117.6 131.8,117.8 122.5,118.6 131.7,119.1 139.1,119.4 130.6,120.2 124.3,121.0 132.1,121.5 134.8,122.3 124.9,123.0 131.7,123.5 122.1,124.2 128.6,124.7 120.1,125.2 113.2,125.9 119.7,126.2 142.0,126.5 140.7,127.2 125.3,127.7 123.2,128.0 127.3,128.5 127.5,129.1 126.8,129.7 117.8,130.4 130.9,130.9 122.0,131.7 123.2,132.2 121.4,132.7 124.9,133.1 132.4,133.8 127.0,134.4 129.0,134.9 126.8,135.3 126.2,136.0 122.5,136.7 115.5,137.4 128.4,137.8 125.7,138.1 122.8,138.5 125.6,139.0 119.6,139.7 126.9,140.4 116.5,140.8 122.2,141.3 116.6,142.0 118.3,142.7 128.2,143.1 123.0,143.8 129.1,144.4 108.7,144.7 125.5,145.0 125.2,145.5 132.7,145.9 133.0,146.6 122.7,147.3 131.7,148.0 132.2,148.8 131.4,149.2 127.6,149.9 125.5,150.4 128.5,151.0 133.3,151.5 129.5,152.3 129.5,153.0 125.1,153.8 132.0,154.5 126.7,155.0 127.6,155.8 133.0,156.7 126.6,157.0 121.7,157.3 119.9,157.6 121.4,158.3 122.2,158.7 122.5,159.0 123.0,159.8 123.5,160.1 117.5,160.4 123.9,160.8 123.9,161.2 123.2,161.5 115.7,161.7 123.9,162.3 117.2,162.7 127.4,163.2 127.3,163.7 125.2,164.0 128.4,164.8 125.4,165.1 120.8,165.7 130.9,166.0 127.7,166.3 130.3,166.8 141.2,167.2 126.7,167.5 132.1,168.2 134.6,168.8 123.6,169.3 134.1,169.8 135.7,170.7 129.4,171.5 127.6,171.9 130.7,172.2 138.3,172.7 138.7,173.6 140.9,174.3 137.1,175.1 134.8,175.9 137.7,176.7 138.9,177.5 131.5,177.8 137.7,178.4 135.2,178.7 135.3,179.6 135.1,180.2 136.9,181.0 134.9,181.6 134.0,181.8 136.4,182.5 125.3,182.8 132.5,183.6 136.5,184.1 123.6,184.4 118.5,185.0 125.7,185.5 132.3,186.0 141.0,186.6 132.6,187.4 129.4,188.0 134.5,188.4 131.9,188.9 133.9,189.6 131.5,190.4 121.9,191.2 114.8,191.5 121.3,191.7 141.8,192.0 135.3,192.6 129.3,193.0 126.7,193.8 127.2,194.5 133.6,194.9 129.6,195.5 130.7,196.0 127.9,196.3 129.5,197.0 128.6,197.6 119.3,198.1 105.8,198.6 119.9,199.1 126.2,199.8 122.3,200.1 118.4,200.7 123.4,201.1 122.3,201.7 124.2,201.9 128.1,202.3 124.0,202.6 122.2,202.8 129.7,203.3 122.5,203.9 126.6,204.6 126.4,205.5 120.6,206.3 129.2,207.0 130.4,207.2 127.1,207.5 129.8,207.9 127.6,208.1 123.5,208.6 134.9,208.9 125.5,209.5 123.2,209.9 131.8,210.6 134.5,210.9 144.5,211.2 134.3,211.9 123.8,212.4 114.7,213.0 106.4,213.4 114.3,213.7 118.8,214.2 119.6,215.0 111.1,215.5 116.7,216.1 129.2,216.4 143.6,216.7 130.1,217.3 118.9,217.7 117.3,218.2 115.5,218.7 123.4,219.1 124.8,219.8 118.3,220.2 117.5,220.6 131.9,221.4 141.2,221.7 130.9,222.0 127.0,222.5 114.5,223.2 118.3,223.9 120.7,224.3 121.5,225.0 123.1,225.6 124.6,226.1 116.2,226.5 119.2,227.3 126.6,227.6 119.0,228.1 120.2,228.7 123.6,229.1 122.5,229.8 129.2,230.2 122.5,231.1 133.5,231.3 124.1,231.8 105.8,232.5 112.6,232.9 113.9,233.2 116.8,233.9 110.8,234.7 113.0,235.3 111.8,235.5 108.3,236.3 103.9,236.6 107.9,236.9 103.9,237.2 108.5,237.5 111.5,238.0 116.1,238.3 114.4,238.6 115.9,239.4 110.4,239.7 103.8,240.5 103.7,241.1 115.1,241.5 111.8,242.4 105.6,243.0 113.2,243.3 115.4,243.6 115.6,244.5 126.8,245.1 131.9,245.8 120.0,246.6 125.5,247.4 128.5,247.7 126.1,248.1 120.0,248.5 118.6,249.3 124.8,249.6 127.6,250.2 125.3,251.0 119.0,251.6 114.2,252.2 121.6,252.5 107.8,253.1 113.4,253.5 112.6,254.1 116.2,254.4 116.5,254.9 113.1,255.6 115.1,256.1 113.4,256.9 116.0,257.2 109.8,257.7 120.1,258.2 110.1,258.6 116.1,259.4 113.8,260.3 120.3,260.7 111.5,261.1 115.4,261.8 114.3,262.5 109.9,263.2 113.9,264.0 122.4,264.4 121.4,265.2 108.0,265.6 111.1,266.4 96.4,266.6 119.1,266.9 109.1,267.6 117.2,268.4 109.2,269.0 115.5,269.4 114.4,270.2 112.8,270.6 116.1,271.0 113.4,271.3 119.3,272.0 114.1,272.5 108.4,273.0 112.4,273.6 109.0,274.5 121.5,274.9 136.2,275.6 127.1,275.9 126.4,276.4 130.8,277.2 127.1,277.5 130.3,278.1 110.4,278.4 136.8,278.9 122.8,279.3 131.6,279.7 128.0,280.1 119.8,280.9 122.1,281.4 122.4,282.2 128.0,282.6 130.3,282.9 132.2,283.7 132.8,284.2 129.7,284.7 117.1,285.4 107.4,285.8 118.8,286.4 117.8,286.7 113.6,287.2 118.5,287.7 132.5,288.2 133.5,289.0 133.9,289.8 117.0,290.4 117.5,291.0 117.3,291.6 119.5,292.1 127.6,292.3 119.0,292.6 116.4,292.8 117.1,293.4 119.5,294.2 116.2,294.5 120.6,295.1 119.0,295.4 115.1,296.1 118.6,296.3 107.7,297.1 111.9,297.6 116.4,298.4 108.6,298.7 115.4,299.2 120.6,299.4 112.9,299.8 117.7,300.5 114.1,301.2 107.5,301.6 115.4,301.9 114.0,302.4 116.2,302.6 125.2,302.9 113.5,303.1 114.6,303.7 119.5,304.2 113.5,304.5 119.7,305.3 116.6,305.5 123.3,306.2 121.8,306.6 126.6,307.3 120.4,307.6 117.3,308.3 122.8,308.9 136.4,309.5 123.4,310.0 124.1,310.8 124.3,311.3 121.7,312.0 122.3,312.9 126.4,313.6 114.2,314.3 121.3,314.6 122.8,315.3 119.4,315.9 121.3,316.2 121.1,316.8 123.2,317.3 117.1,318.1 122.8,318.9 109.5,319.2 122.3,319.6 127.0,320.2 124.2,320.6 122.1,321.4 115.2,321.9 104.4,322.2 114.4,322.5 104.0,323.0 119.4,323.3 119.4,323.9 122.3,324.4 128.5,325.1 121.1,325.6 124.5,326.4 121.6,327.0 129.9,327.8 118.6,328.3 120.1,328.8 121.2,329.1 128.8,329.5 123.3,330.2 132.1,330.5 132.6,330.9 128.2,331.4 142.1,332.0 123.1,332.4 127.4,333.3 108.7,333.6 114.3,334.3 123.3,335.2 112.4,335.8 112.7,336.1 123.3,336.5 122.1,336.8 114.2,337.5 103.9,338.0 112.6,338.7 120.3,339.1 123.8,339.6 108.8,339.9 118.5,340.5 115.6,341.3 114.5,341.6 112.3,342.0 104.0,342.4 120.9,343.0 125.2,343.3 111.8,343.9 107.5,344.4 141.7,345.1 109.3,345.4 108.8,345.7 101.3,346.1 110.2,346.5 117.1,347.0 114.6,347.9 116.8,348.2 115.2,348.8 120.0,349.5 118.3,349.9 109.2,350.4 118.0,350.8 117.4,351.2 115.5,351.6 115.8,352.1 118.3,352.3 115.0,352.9 113.5,353.3 114.0,353.9 108.4,354.6 117.8,355.1 116.6,355.4 116.1,355.7 114.8,356.1 111.7,356.5 114.5,356.7 111.2,357.2 111.5,357.5 112.3,358.3 117.8,359.1 139.7,359.5 114.4,359.9 115.1,360.7 123.7,361.5 122.0,362.2 130.1,362.5 129.6,362.8 119.9,363.1 134.1,363.9 121.9,364.6 132.5,365.2 129.8,365.8 125.2,366.0 131.0,366.6 121.9,367.2 132.1,367.7 108.9,368.2 129.4,368.5 138.0,368.8 128.5,369.1 118.4,369.4 110.0,369.7 118.2,370.2 122.9,370.6 125.5,371.4 122.8,372.2 123.1,372.5 123.7,373.2 124.3,374.0 122.8,374.9 110.6,375.3 117.4,375.7 106.7,376.0 97.9,376.6 106.5,377.1 92.1,377.6 112.0,378.3 117.3,378.7 119.7,379.0 115.2,379.5 113.8,379.9 126.6,380.2 130.1,380.9 139.7,381.3 130.5,381.9 116.1,382.4 117.7,383.2 113.1,384.1 134.9,384.8 114.7,385.1 129.1,385.7 123.2,386.1 112.6,386.9 119.7,387.7 117.2,388.3 118.6,389.0 117.5,389.5 127.3,389.8 121.6,390.1 111.1,390.7 118.7,391.1 128.6,391.6 138.5,392.0 128.6,392.7 121.2,393.1 123.6,393.4 117.2,393.8 117.7,394.4 123.6,394.6 121.6,395.3 124.0,395.6 122.6,396.1 122.9,396.4 126.3,396.6 114.7,397.0 115.6,397.5 116.9,398.0 118.8,398.2 120.3,399.1 126.3,399.4 117.7,399.9 121.3,400.2 118.7,400.5 122.1,401.3 117.4,401.7 119.7,402.1 111.6,402.6 120.0,403.2 118.9,403.9 119.8,404.2 114.6,405.0 112.6,405.9 118.1,406.2 111.2,406.6 112.9,407.2 106.3,407.6 112.9,407.9 116.7,408.4 114.8,409.1 115.0,409.8 95.7,410.2 103.2,410.8 102.9,411.1 103.7,411.7 104.3,412.5 102.0,413.3 112.6,413.9 103.9,414.7 106.4,415.3 104.9,415.9 113.3,416.2 113.8,416.9 107.1,417.6 114.7,418.4 111.6,418.6 132.1,418.9 110.9,419.5 109.9,419.9 115.9,420.5 114.2,421.0 123.5,421.6 119.5,421.9 109.1,422.8 113.0,423.5 106.9,424.2 113.4,425.0 121.8,425.2 105.6,425.7 106.1,426.5 120.3,426.8 118.4,427.5 111.8,427.9 99.7,428.5 116.2,429.2 107.1,430.0 109.9,430.6 109.9,431.0 114.5,431.3 111.8,431.9 126.1,432.6 140.5,433.1 125.9,433.7 117.5,433.9 117.1,434.5 118.7,434.9 112.6,435.3 111.7,435.6 110.6,436.3 108.9,436.7 113.5,437.2 114.1,438.0 104.1,438.6 109.4,439.4 107.0,439.9 109.9,440.4 99.7,441.0 108.0,441.6 106.6,441.9 112.3,442.5 135.9,443.2 112.2,443.4 108.2,443.7 136.0,444.0 105.6,444.5 99.3,445.3 105.0,445.6 103.4,446.0 105.0,446.6 99.8,447.2 107.4,447.9 103.0,448.3 96.0,449.1 109.9,449.7 104.1,450.4 104.1,451.1 104.8,451.4 105.3,451.7 125.2,452.1 106.4,452.7 111.2,453.2 105.6,453.7 105.8,454.4 100.0,455.0 108.3,455.5 112.8,456.1 110.8,456.6 108.0,457.3 100.1,457.9 113.7,458.3 110.5,458.5 102.9,459.0 108.2,459.7 104.4,460.1 124.6,460.7 139.1,461.2 123.9,461.7 123.7,461.9 140.9,462.2 122.0,462.7 115.8,463.1 109.2,463.4 109.4,463.9 110.2,464.3 127.2,464.6 108.7,464.9 108.8,465.4 114.6,465.7 102.1,466.1 109.5,466.4 101.6,466.8 120.9,467.5 112.1,467.8 121.0,468.5 98.6,468.8 108.5,469.5 104.4,470.0 104.1,470.7 103.0,471.2 106.7,471.6 102.9,472.0 104.1,472.7 102.9,473.5 107.2,474.1 104.5,475.0 104.0,475.8 103.7,476.4 102.1,476.8 100.2,477.4 101.6,478.0 105.6,478.4 101.1,478.6 102.1,478.9 101.0,479.4 111.4,480.1 100.9,480.8 104.9,481.3 98.8,481.8 104.2,482.6 112.0,482.8 107.0,483.5 108.6,483.8 120.9,484.5 139.9,484.9 119.9,485.3 104.3,485.9 105.2,486.2 99.9,486.7 108.4,487.3 99.3,488.0 114.5,488.8 111.2,489.4 110.7,490.1 108.4,490.7" fill="none" stroke="#a8a8a8" stroke-width="0.75" stroke-opacity="1.0" stroke-linejoin="miter"/>
<polyline points="104.4,57.0 106.3,57.3 106.1,57.6 105.6,58.1 105.6,58.3 106.1,58.9 106.5,59.4 107.2,59.9 111.4,60.6 108.0,61.3 95.5,61.7 110.4,61.9 99.3,62.6 105.9,63.1 105.9,64.0 111.5,64.3 119.8,65.1 123.6,65.8 126.7,66.2 126.7,66.9 119.4,67.3 114.9,68.1 114.9,69.0 129.9,69.5 117.7,70.1 122.0,70.5 122.4,71.2 127.7,72.0 111.4,72.7 109.8,73.0 124.9,73.7 104.4,74.3 109.8,74.8 109.6,75.3 107.6,75.6 102.7,76.2 92.1,76.7 111.0,77.1 113.2,77.4 107.1,78.2 115.0,78.6 117.2,79.0 106.4,79.5 124.1,80.3 138.1,80.8 124.8,81.3 112.3,81.8 108.9,82.5 112.9,82.9 112.8,83.3 114.0,84.0 105.8,84.9 118.3,85.7 116.0,86.0 108.3,86.7 110.2,87.4 116.5,87.8 121.2,88.6 124.4,89.5 127.1,89.7 115.8,90.2 127.6,90.6 115.8,90.9 125.0,91.2 122.6,91.5 124.0,91.9 125.9,92.7 117.6,93.0 121.2,93.6 118.8,94.3 118.2,95.0 121.0,95.5 118.0,96.3 127.9,97.1 119.4,97.6 112.6,98.2 107.4,98.5 111.5,99.0 108.8,99.8 108.1,100.7 110.7,101.3 110.9,101.7 110.7,102.5 130.7,102.9 115.7,103.4 117.0,103.8 117.3,104.2 116.0,104.6 110.2,105.4 115.1,106.2 115.2,106.6 114.3,107.2 113.2,107.6 144.6,108.5 126.3,109.0 130.0,109.9 128.5,110.4 129.8,110.8 129.4,111.2 125.8,111.7 126.0,112.2 113.5,112.8 125.0,113.2 128.2,114.0 130.9,114.7 118.0,115.2 130.8,115.7 128.0,116.1 124.5,116.7 122.4,117.2 122.8,117.7 128.6,117.9 123.0,118.8 123.9,119.1 129.1,119.5 119.1,119.8 126.6,120.2 129.1,120.6 126.8,121.0 138.4,121.8 130.0,122.1 142.1,122.5 127.3,123.1 133.3,123.7 129.4,124.2 123.9,124.4 128.0,125.2 130.8,125.8 133.9,126.6 142.7,127.0 133.4,127.3 128.3,127.6 134.4,127.8 127.3,128.3 144.2,129.0 132.5,129.5 122.4,130.3 128.3,130.8 134.3,131.5 128.2,132.3 135.9,132.8 128.6,133.0 131.1,133.6 125.2,134.0 128.4,134.9 125.7,135.3 137.4,135.5 127.6,136.4 125.5,136.7 121.2,136.9 129.8,137.6 128.8,138.3 123.9,138.6 122.3,139.4 111.3,139.8 121.8,140.2 125.9,140.9 116.9,141.5 124.0,142.0 125.0,142.5 129.5,143.1 122.9,143.7 133.0,144.2 122.0,144.8 126.4,145.1 128.3,145.8 116.1,146.1 130.8,146.5 136.1,147.1 131.6,147.7 114.7,148.3 123.4,149.0 123.0,149.4 124.0,150.3 124.1,150.9 119.1,151.4 118.3,152.0 109.8,152.7 125.8,153.1 118.3,153.4 123.5,153.8 122.0,154.2 112.5,154.6 115.3,155.2 125.4,155.5 120.6,156.2 108.6,156.7 122.3,157.2 107.2,157.5 124.0,158.1 136.2,158.8 140.0,159.4 129.7,159.9 129.5,160.3 138.5,160.9 129.1,161.6 127.9,161.9 123.8,162.3 131.6,162.6 136.5,163.4 127.8,164.1 125.5,164.4 121.8,164.7 123.7,165.3 113.4,165.9 122.5,166.2 122.6,166.7 123.9,167.4 122.9,168.1 121.5,168.7 116.1,169.1 113.6,169.7 116.4,170.2 128.4,170.9 134.0,171.3 127.9,171.7 133.1,172.0 131.2,172.9 131.4,173.7 136.7,174.5 136.7,175.2 134.0,176.0 132.0,176.8 129.2,177.1 130.1,177.9 131.4,178.3 126.1,178.6 129.8,179.0 129.6,179.8 131.6,180.7 131.8,180.9 141.7,181.5 126.7,181.7 131.4,182.2 126.2,183.0 128.5,183.3 130.4,183.7 129.0,184.3 123.7,184.7 119.0,185.3 124.2,185.8 127.0,186.1 129.1,186.6 131.7,187.1 133.1,187.6 132.3,188.0 131.8,188.3 132.2,188.7 138.9,189.3 136.5,190.1 132.7,190.8 132.5,191.6 127.6,192.1 132.4,192.4 127.6,192.7 127.3,193.4 125.9,194.1 115.9,195.0 136.6,195.5 130.4,196.1 132.9,197.0 116.1,197.7 107.3,198.0 117.4,198.6 128.5,199.1 139.5,199.9 130.4,200.2 132.2,201.1 128.0,201.7 129.1,202.3 131.9,203.1 133.6,203.7 124.6,204.2 129.0,204.6 129.9,205.4 119.0,206.2 133.2,206.5 132.4,207.1 131.1,207.7 128.7,208.3 134.2,208.7 132.5,209.4 142.2,210.2 134.0,210.7 131.8,211.3 129.6,212.2 143.2,212.6 107.3,213.0 123.5,213.5 118.7,214.3 114.8,215.0 105.8,215.5 117.9,215.7 120.0,216.2 122.2,216.6 123.4,217.0 112.8,217.5 120.1,218.1 117.3,218.8 127.3,219.3 113.9,219.7 108.5,220.3 113.0,220.5 118.8,220.8 114.8,221.2 117.2,222.0 125.2,222.4 128.1,223.2 138.9,223.7 127.6,224.4 122.1,224.7 114.3,224.9 117.6,225.7 125.0,226.2 126.3,226.8 125.6,227.5 126.9,227.9 126.2,228.3 144.1,228.5 124.8,228.9 127.9,229.5 130.1,230.1 128.4,230.7 128.6,231.3 133.5,231.9 118.0,232.4 118.5,233.2 115.4,233.7 127.6,234.3 121.2,234.8 124.8,235.1 120.4,235.5 111.2,235.8 117.7,236.1 120.1,236.9 117.7,237.7 115.6,238.2 117.1,239.0 118.1,239.8 112.7,240.7 107.9,241.0 108.4,241.5 120.3,241.9 116.2,242.2 109.2,242.8 113.0,243.5 113.6,243.8 115.3,244.1 118.1,244.8 112.9,245.3 120.1,246.0 120.9,246.8 119.7,247.5 119.4,247.8 126.4,248.3 126.0,248.5 133.8,249.3 120.7,249.9 129.3,250.6 137.9,251.4 136.9,252.0 122.2,252.4 116.1,252.7 109.8,253.2 116.7,253.8 117.8,254.1 121.2,254.9 121.9,255.4 120.5,255.7 118.3,256.2 117.4,256.5 122.1,256.8 121.5,257.3 114.9,257.8 118.9,258.3 114.4,258.5 117.2,259.4 118.5,260.2 120.7,260.6 119.3,261.1 110.0,261.4 111.4,261.9 110.6,262.2 111.8,262.7 135.9,263.0 115.7,263.4 118.5,263.8 112.0,264.7 109.5,265.2 108.2,266.0 110.4,266.8 101.0,267.5 110.6,268.2 114.1,268.6 110.8,269.3 105.9,269.9 116.2,270.6 108.3,270.8 112.2,271.7 113.7,272.2 113.6,272.8 110.3,273.5 119.6,274.1 119.6,274.6 127.9,275.4 124.8,275.8 122.9,276.3 126.4,276.7 125.7,276.9 122.6,277.7 124.7,278.3 123.9,278.6 130.9,279.2 126.2,279.6 125.6,280.5 129.6,280.9 119.5,281.5 128.3,281.7 133.7,282.0 129.0,282.5 132.0,283.1 116.6,283.4 127.1,283.8 107.4,284.6 120.5,285.1 123.2,285.7 132.4,286.0 127.5,286.3 126.4,286.9 125.5,287.6 137.1,288.1 129.4,288.8 133.3,289.3 119.7,290.0 117.2,290.8 113.7,291.1 118.1,291.5 116.4,292.0 119.8,292.5 118.7,293.1 117.5,293.6 122.3,293.9 120.0,294.1 118.7,294.6 118.2,295.3 111.4,295.6 105.9,295.9 112.4,296.4 114.6,296.9 117.1,297.5 117.0,298.2 113.9,299.0 114.6,299.7 111.5,300.6 105.9,301.5 114.3,302.1 112.8,302.6 110.7,303.3 113.9,304.0 116.2,304.3 124.7,304.8 118.7,305.4 118.2,306.3 115.2,306.6 117.4,307.1 119.0,307.8 123.1,308.6 120.2,309.3 120.8,309.8 116.4,310.4 118.5,310.9 121.6,311.5 117.9,311.8 118.0,312.1 114.6,312.7 120.1,313.4 128.8,313.8 119.7,314.1 115.9,314.6 116.8,314.9 114.7,315.3 114.6,315.6 115.8,316.0 117.2,316.3 113.8,316.9 118.1,317.5 113.0,318.0 105.0,318.3 110.0,318.6 115.7,319.1 111.2,319.4 115.9,320.2 118.4,320.5 114.0,321.1 138.3,321.5 117.1,322.1 120.7,322.7 120.5,323.0 115.6,323.6 115.7,324.0 117.7,324.7 108.3,325.2 119.1,325.6 116.4,326.0 114.4,326.3 125.0,326.6 118.9,327.3 107.1,327.7 124.9,328.2 126.4,329.1 111.8,329.7 128.6,329.9 125.9,330.4 135.1,331.0 115.0,331.8 119.5,332.5 126.0,333.4 124.0,333.6 123.0,334.4 121.7,334.9 122.7,335.1 126.6,335.5 141.3,336.3 118.7,336.7 122.7,337.4 123.3,337.8 119.9,338.2 119.6,338.8 117.4,339.4 129.9,339.7 115.9,339.9 108.9,340.6 119.9,341.2 122.2,342.0 142.0,342.5 131.5,343.1 122.3,343.8 109.9,344.2 134.8,344.6 135.0,345.2 118.8,345.7 116.7,346.1 120.1,346.4 122.7,346.6 120.0,346.9 115.2,347.4 117.4,348.0 115.7,348.3 118.4,348.6 117.2,349.2 123.0,349.7 118.0,350.5 119.0,351.3 114.3,351.5 122.5,352.0 115.9,352.5 112.8,352.8 116.0,353.5 114.4,353.8 116.3,354.2 122.8,354.8 114.5,355.5 119.8,355.9 116.1,356.1 117.3,356.8 129.5,357.7 116.8,358.1 113.0,358.6 116.7,359.3 133.9,360.1 128.5,360.9 119.7,361.7 115.9,362.0 111.8,362.5 116.5,362.9 123.0,363.3 128.6,364.0 122.1,364.4 124.5,364.7 119.8,364.9 128.0,365.3 128.2,365.8 121.0,366.2 107.9,366.8 129.6,367.3 120.7,368.1 119.0,368.8 121.1,369.4 120.5,370.2 118.2,371.1 118.7,371.5 107.8,371.9 122.5,372.3 112.2,372.5 116.5,373.0 119.1,373.7 125.3,374.2 121.2,374.6 114.3,374.8 111.4,375.4 108.3,376.2 102.0,377.1 93.0,377.3 103.6,377.9 115.2,378.2 113.2,379.0 112.8,379.4 108.3,379.6 114.1,379.9 121.0,380.2 129.5,380.9 140.8,381.1 129.5,381.7 111.0,382.1 117.5,382.4 121.5,383.1 132.5,383.4 140.5,384.0 131.0,384.5 116.2,384.7 114.4,385.3 117.4,385.9 117.7,386.5 116.9,387.3 116.7,387.7 118.7,388.2 118.8,388.7 119.1,389.2 141.4,389.9 117.0,390.2 112.9,390.6 116.1,391.2 120.6,391.8 123.3,392.6 118.2,393.2 122.5,393.8 119.0,394.6 124.4,395.0 116.8,395.3 124.4,395.9 113.6,396.6 121.6,397.0 124.9,397.3 117.4,398.1 116.7,398.9 120.2,399.8 117.6,400.5 110.8,401.0 115.8,401.8 140.5,402.1 121.7,402.6 116.7,403.0 115.5,403.6 111.7,404.2 115.9,404.7 111.4,405.5 115.9,406.4 118.2,406.7 115.5,407.4 117.7,407.8 118.5,408.1 120.6,408.6 122.2,409.0 116.3,409.8 111.5,410.0 108.2,410.7 111.5,411.6 105.5,411.9 107.7,412.3 110.9,413.2 104.0,413.7 111.8,414.4 102.0,415.1 107.8,415.8 113.4,416.7 101.6,417.4 111.0,417.9 112.7,418.3 110.0,419.0 104.4,419.7 139.3,420.2 114.8,420.4 114.2,420.9 105.4,421.5 114.4,422.1 115.5,422.4 128.5,423.1 123.8,423.6 122.8,424.0 108.9,424.8 114.2,425.7 111.3,426.5 110.1,427.2 112.0,428.0 115.0,428.6 108.9,429.4 114.7,430.2 110.5,430.8 109.1,431.6 111.6,432.2 140.4,432.6 106.0,433.1 104.5,433.9 102.4,434.8 104.1,435.7 101.8,436.4 108.4,436.9 107.0,437.6 124.3,438.2 105.3,438.7 107.0,439.0 103.9,439.8 103.2,440.4 106.1,441.1 102.7,441.6 104.8,441.9 104.7,442.6 118.1,443.4 136.1,443.7 119.3,443.9 135.0,444.5 105.7,445.1 104.9,445.6 102.5,446.3 103.8,446.8 98.3,447.4 105.9,448.0 106.6,448.3 108.0,449.1 108.2,449.7 108.1,450.3 105.3,450.7 100.2,451.6 110.6,452.4 103.9,453.1 105.5,453.6 108.2,454.2 104.2,454.5 106.0,455.4 107.6,455.6 106.1,456.4 106.2,456.9 107.6,457.6 116.1,457.9 106.2,458.5 109.8,458.9 110.5,459.5 108.4,460.2 121.2,460.8 140.0,461.1 120.7,461.6 139.8,462.0 116.6,462.7 108.8,463.4 110.0,463.8 113.4,464.4 115.2,464.7 107.8,465.0 111.3,465.3 103.6,465.9 110.9,466.2 109.4,466.4 109.5,466.7 116.7,467.0 108.4,467.3 105.0,467.9 107.3,468.2 108.3,468.7 105.9,469.0 104.4,469.8 104.1,470.4 107.3,471.1 104.6,471.9 100.5,472.2 100.0,472.5 110.9,473.0 108.9,473.6 102.6,473.8 101.9,474.1 102.6,474.8 100.6,475.5 104.1,475.7 105.6,476.5 102.9,476.9 106.4,477.5 97.0,477.9 102.7,478.5 103.4,479.0 99.8,479.6 104.6,480.3 104.3,480.5 103.0,480.9 108.8,481.6 112.3,482.0 114.7,482.4 110.3,482.6 115.5,483.0 109.3,483.5 119.7,484.0 124.5,484.2 139.8,484.7 126.4,485.3 108.8,485.8 113.5,486.2 108.8,487.0 105.9,487.9 109.1,488.6 105.8,489.3 111.3,489.5 104.2,490.0 110.9,490.5" fill="none" stroke="#111" stroke-width="0.7" stroke-opacity="1.0" stroke-linejoin="miter"/>
<g stroke="#666" stroke-width="0.7">
<line x1="84.00" y1="55.00" x2="156.00" y2="55.00" stroke="#666" stroke-width="0.7"/>
<line x1="84.00" y1="50.20" x2="84.00" y2="55.00" stroke="#666" stroke-width="0.7"/>
<line x1="95.80" y1="50.20" x2="95.80" y2="55.00" stroke="#666" stroke-width="0.7"/>
<line x1="107.60" y1="50.20" x2="107.60" y2="55.00" stroke="#666" stroke-width="0.7"/>
<line x1="119.40" y1="50.20" x2="119.40" y2="55.00" stroke="#666" stroke-width="0.7"/>
<line x1="131.90" y1="50.20" x2="131.90" y2="55.00" stroke="#666" stroke-width="0.7"/>
<line x1="143.70" y1="50.20" x2="143.70" y2="55.00" stroke="#666" stroke-width="0.7"/>
<line x1="156.00" y1="50.20" x2="156.00" y2="55.00" stroke="#666" stroke-width="0.7"/>
</g>
<text x="87.0" y="38.4" font-size="9.6" fill="#111" font-family='"Liberation Sans", sans-serif' textLength="76" lengthAdjust="spacingAndGlyphs">(A) redness (a*)</text>
<text x="85.4" y="48.6" font-size="7.4" fill="#222" font-family='"Liberation Sans", sans-serif' text-anchor="middle">10</text>
<text x="107.6" y="48.6" font-size="7.4" fill="#222" font-family='"Liberation Sans", sans-serif' text-anchor="middle">0</text>
<text x="129.6" y="48.6" font-size="7.4" fill="#222" font-family='"Liberation Sans", sans-serif' text-anchor="middle">-10</text>
<text x="154.3" y="48.6" font-size="7.4" fill="#222" font-family='"Liberation Sans", sans-serif' text-anchor="middle">-20</text>
<polyline points="195.7,57.0 194.5,57.4 197.9,57.7 194.2,58.1 195.5,58.5 196.4,58.7 192.9,59.4 203.5,60.0 201.5,60.5 201.7,60.8 201.0,61.5 202.1,61.7 200.0,62.3 209.6,62.9 215.0,63.6 204.9,64.1 206.1,64.5 214.9,64.8 198.1,65.4 207.2,65.6 207.2,66.0 207.9,66.3 203.3,67.0 207.0,67.7 197.7,68.3 208.7,68.6 203.5,69.1 215.8,69.7 200.7,70.0 209.5,70.5 204.2,70.8 208.0,71.3 205.6,71.5 209.9,72.2 209.8,72.9 214.0,73.2 199.1,73.8 206.0,74.0 201.7,74.4 209.5,75.0 206.0,75.7 202.9,76.0 207.7,76.7 201.4,77.2 203.8,77.4 210.7,77.7 203.2,78.3 203.5,78.6 210.2,79.1 201.3,79.7 211.9,80.4 203.5,80.9 206.5,81.4 201.9,81.9 197.7,82.2 201.2,82.5 205.8,83.0 203.3,83.5 196.2,84.1 209.2,84.7 190.6,85.2 189.4,85.9 190.3,86.6 194.8,86.8 201.7,87.0 204.9,87.3 193.7,87.7 198.0,88.4 201.2,88.9 194.7,89.2 199.9,89.9 193.3,90.4 194.2,90.8 193.3,91.2 193.5,91.5 197.4,91.8 195.6,92.5 199.2,93.0 205.8,93.6 211.9,94.1 205.5,94.3 199.0,94.6 186.3,95.0 199.0,95.3 186.5,96.0 190.6,96.5 199.7,97.1 197.3,97.7 188.9,98.2 195.3,98.7 197.1,99.2 198.0,99.6 194.2,99.8 193.1,100.0 199.7,100.4 202.2,100.7 188.6,101.1 183.3,101.5 188.1,102.0 184.2,102.3 197.2,102.6 198.7,103.0 193.7,103.5 194.4,103.7 197.6,104.0 195.0,104.7 184.9,105.0 206.4,105.5 200.1,106.1 204.7,106.8 202.8,107.1 201.1,107.7 201.1,108.1 200.9,108.3 202.6,109.0 203.0,109.6 202.9,110.0 198.1,110.6 197.2,111.0 194.9,111.5 199.0,111.7 199.7,112.2 192.2,112.9 204.8,113.3 209.2,113.6 211.4,114.1 210.0,114.5 205.6,114.8 206.2,115.1 207.3,115.6 206.4,115.9 205.5,116.4 206.2,117.0 211.3,117.6 208.9,117.9 207.1,118.4 208.0,118.8 204.2,119.0 212.9,119.7 189.6,120.0 171.4,120.3 189.7,120.8 195.6,121.2 184.3,121.6 173.9,122.0 185.0,122.5 195.3,122.7 210.8,123.1 209.3,123.6 214.9,124.3 208.3,124.9 204.3,125.1 202.5,125.4 203.5,125.6 203.6,125.9 203.4,126.4 211.3,126.6 208.3,127.1 212.6,127.4 203.2,127.8 207.4,128.0 204.4,128.4 212.7,128.6 206.2,129.2 207.0,129.9 207.3,130.6 204.0,130.9 203.4,131.4 211.9,131.6 209.6,131.9 202.6,132.1 205.8,132.4 208.9,132.7 205.4,133.2 205.3,133.6 207.0,133.9 210.9,134.2 210.3,134.6 208.5,135.3 205.9,135.8 205.1,136.4 202.8,136.8 204.5,137.3 209.1,137.7 206.4,138.2 209.7,138.8 206.0,139.5 209.4,139.9 210.5,140.4 203.3,140.7 203.8,141.3 211.1,142.0 206.5,142.5 202.4,143.2 208.9,143.6 208.2,144.0 206.6,144.4 209.6,144.6 209.1,144.9 202.2,145.5 209.8,145.8 208.9,146.3 206.0,146.8 208.4,147.4 208.6,148.1 205.2,148.6 212.0,148.8 206.4,149.0 206.8,149.7 209.8,150.1 200.6,150.7 208.4,151.3 204.5,151.6 209.0,152.0 201.1,152.5 200.0,152.9 208.0,153.6 200.1,154.3 206.3,154.9 210.4,155.4 200.0,155.7 207.0,156.1 208.6,156.3 200.7,156.9 200.8,157.4 206.5,157.8 204.9,158.2 202.8,158.5 206.7,158.8 204.1,159.2 203.6,159.6 178.7,160.0 193.1,160.5 197.7,161.0 204.2,161.3 192.7,161.8 194.8,162.2 199.3,162.9 201.8,163.3 202.7,163.6 208.2,164.0 205.3,164.4 203.1,165.0 213.0,165.6 207.3,165.9 193.4,166.4 191.4,166.8 185.3,167.0 179.6,167.3 186.9,167.7 191.9,168.1 190.3,168.6 194.1,168.8 198.3,169.2 200.9,169.7 195.4,170.0 208.4,170.3 198.9,170.6 192.6,170.8 205.2,171.5 195.2,171.7 208.0,172.4 206.9,172.6 201.0,173.2 210.5,173.5 207.2,173.8 207.9,174.2 202.3,174.6 205.4,175.0 192.9,175.6 175.3,176.1 192.4,176.5 204.3,176.7 207.7,177.1 208.8,177.4 207.3,178.1 206.5,178.7 208.8,179.2 205.8,179.5 202.2,180.1 203.0,180.8 211.3,181.1 210.9,181.7 207.1,182.2 198.0,182.6 207.2,182.9 207.4,183.6 207.9,184.1 202.9,184.5 204.7,185.1 200.2,185.8 203.7,186.3 206.0,186.6 199.6,187.1 200.7,187.7 207.2,188.4 206.1,188.7 205.2,189.4 202.0,189.8 199.5,190.2 205.1,190.4 189.7,190.6 177.7,190.9 189.1,191.4 204.7,191.8 205.1,192.4 204.6,193.0 205.2,193.2 200.9,193.8 206.3,194.5 208.3,195.1 204.6,195.5 203.3,195.8 202.9,196.1 203.0,196.4 198.6,197.0 188.7,197.3 178.3,197.6 187.9,197.9 197.6,198.1 203.8,198.3 213.7,198.8 205.1,199.2 200.1,199.4 211.3,199.8 208.8,200.1 212.8,200.4 198.7,201.1 203.3,201.6 204.3,202.1 204.1,202.6 201.0,203.2 198.7,203.7 201.2,204.2 200.4,204.8 213.6,205.0 198.1,205.4 205.2,206.1 202.2,206.5 201.3,206.8 197.9,207.0 194.0,207.4 202.6,207.9 195.9,208.5 202.2,208.9 202.7,209.6 194.0,210.0 205.5,210.5 203.9,211.0 197.3,211.4 185.2,212.0 184.3,212.2 181.1,212.5 183.4,212.7 182.2,213.3 176.8,213.5 178.2,213.7 173.6,214.1 178.0,214.4 177.5,214.8 174.4,215.3 177.3,215.8 174.0,216.2 185.8,216.6 183.2,217.2 183.7,217.6 181.7,217.8 182.8,218.2 178.4,218.8 185.3,219.2 178.1,219.4 187.5,219.7 185.4,219.9 188.9,220.3 181.5,220.8 178.9,221.2 181.9,221.4 176.0,221.6 175.0,222.1 186.9,222.6 181.8,222.8 185.6,223.4 175.9,223.7 181.3,224.2 182.7,224.8 179.1,225.5 179.2,226.1 176.6,226.4 182.4,226.7 185.6,227.3 183.3,227.8 184.8,228.0 174.0,228.5 182.5,228.8 182.2,229.3 203.4,230.0 200.1,230.4 204.9,230.8 202.4,231.5 200.8,231.7 181.8,232.1 196.0,232.8 188.1,233.3 190.0,233.9 186.7,234.6 187.8,234.9 196.0,235.2 190.3,235.6 188.4,235.9 192.7,236.2 194.2,236.9 188.6,237.5 198.9,237.7 190.9,237.9 189.9,238.2 181.7,238.8 186.7,239.3 193.2,239.6 187.0,240.2 191.9,240.7 193.4,241.4 187.5,242.0 196.0,242.2 190.0,242.4 196.0,243.0 186.5,243.4 190.0,244.0 187.0,244.7 191.8,245.0 189.7,245.4 180.1,246.0 168.1,246.3 179.1,246.7 188.6,247.0 198.2,247.3 206.0,248.0 193.5,248.4 205.3,248.8 196.2,249.4 201.7,249.9 200.2,250.3 196.9,250.8 196.2,251.4 183.1,252.0 187.1,252.7 194.0,253.4 175.8,253.9 168.7,254.3 175.7,254.7 186.7,255.2 188.5,255.7 183.2,256.1 182.5,256.6 185.1,257.2 188.8,257.7 181.0,258.0 185.1,258.4 187.7,258.9 188.3,259.3 184.2,259.5 190.8,260.0 185.7,260.3 188.9,260.9 177.9,261.1 192.8,261.6 191.9,262.1 194.0,262.4 183.6,262.8 185.0,263.1 180.0,263.3 188.7,264.0 184.5,264.6 187.4,264.9 184.3,265.5 180.7,266.1 191.8,266.4 193.1,266.8 188.1,267.0 188.3,267.4 177.2,267.9 174.4,268.3 187.9,269.0 188.9,269.4 185.6,269.9 194.6,270.3 186.9,270.6 184.8,271.2 192.9,271.6 189.3,272.2 196.0,272.8 189.9,273.3 197.5,273.8 192.8,274.0 186.3,274.3 196.2,275.0 189.6,275.6 193.0,276.1 190.6,276.7 187.2,277.0 193.9,277.7 187.2,278.0 182.7,278.3 186.7,278.6 198.4,278.8 185.8,279.5 191.5,280.0 198.5,280.5 196.2,280.8 185.5,281.1 190.4,281.8 182.3,282.3 194.9,282.5 186.9,282.7 190.7,283.4 192.9,284.1 189.0,284.6 187.4,284.9 192.2,285.2 189.2,285.7 197.4,285.9 182.0,286.2 193.3,286.6 191.5,287.1 182.0,287.4 202.5,288.1 199.6,288.8 204.8,289.2 200.1,289.8 182.9,290.4 185.9,290.9 186.5,291.4 185.1,292.0 179.1,292.7 182.5,293.3 188.3,293.6 196.7,294.2 197.9,294.7 189.5,295.2 177.0,295.6 190.5,295.9 187.2,296.2 188.1,296.9 182.4,297.4 197.6,298.1 193.3,298.6 189.1,299.0 189.8,299.7 183.1,299.9 192.7,300.1 182.6,300.8 183.8,301.1 187.9,301.7 190.7,302.0 186.4,302.2 178.3,302.8 181.4,303.4 183.8,303.7 181.1,304.2 183.9,304.5 188.3,305.2 186.7,305.5 190.3,305.9 192.2,306.1 189.1,306.6 182.0,307.0 187.4,307.5 185.3,307.7 191.9,308.2 192.1,308.6 183.1,308.8 194.2,309.2 184.0,309.8 201.7,310.4 212.0,310.8 203.0,311.1 190.3,311.4 188.5,311.8 197.8,312.4 189.8,312.7 193.3,313.2 200.8,313.8 196.1,314.3 194.2,315.0 190.1,315.7 196.0,316.0 183.7,316.2 189.0,316.6 186.2,316.8 196.0,317.5 187.1,318.2 190.9,318.8 177.9,319.0 196.0,319.4 184.3,320.0 193.6,320.2 188.8,320.7 185.5,321.4 186.8,321.7 185.8,322.4 187.8,322.8 192.7,323.1 188.1,323.5 179.8,324.0 181.6,324.4 189.5,324.6 184.4,324.7 200.4,325.3 190.9,325.5 190.8,325.8 204.0,326.4 213.8,326.7 204.2,327.0 196.6,327.5 193.5,328.1 198.5,328.4 208.4,328.7 216.0,329.2 207.2,329.6 199.1,330.0 189.1,330.3 195.3,330.7 191.5,331.4 194.1,331.6 197.3,332.1 200.3,332.7 182.6,333.0 183.6,333.4 182.0,333.9 191.8,334.3 191.1,334.9 195.3,335.4 203.9,335.6 213.4,336.1 204.1,336.5 195.0,336.6 194.6,337.0 191.7,337.2 188.0,337.8 194.8,338.4 187.7,339.1 192.6,339.6 193.4,340.2 194.3,340.5 196.3,340.8 192.6,341.4 188.3,342.1 191.5,342.6 189.2,342.8 187.6,343.3 189.8,343.7 190.4,344.2 190.5,344.5 205.7,345.1 216.3,345.6 205.3,345.9 205.8,346.2 202.9,346.6 187.6,347.2 195.7,347.6 189.6,348.0 204.1,348.5 202.8,348.7 193.9,349.2 205.0,349.5 192.2,350.0 183.6,350.3 178.3,350.7 183.9,351.1 190.6,351.5 203.8,351.8 203.0,352.3 193.8,352.5 197.0,353.0 198.7,353.4 187.1,353.9 181.0,354.5 195.2,354.7 192.0,355.0 181.0,355.3 187.1,355.8 181.0,356.3 200.2,356.9 198.7,357.4 190.9,358.1 189.1,358.3 194.3,358.6 200.6,358.9 184.8,359.1 188.2,359.4 201.3,359.6 197.3,360.2 190.8,360.6 191.2,360.9 191.1,361.1 191.1,361.4 197.2,361.8 195.7,362.5 185.9,362.8 199.5,363.0 203.6,363.2 187.7,363.6 195.6,364.3 188.0,364.5 202.9,365.2 206.0,365.7 191.3,366.1 206.0,366.4 194.9,367.1 197.3,367.4 192.9,368.0 197.7,368.7 187.3,369.0 198.9,369.3 201.1,369.8 198.2,370.5 198.1,371.1 184.2,371.7 193.7,372.1 193.7,372.7 186.6,373.3 192.9,373.8 213.9,374.0 192.5,374.5 192.5,375.1 198.2,375.7 190.4,375.9 193.4,376.2 195.4,376.8 186.3,377.4 193.1,377.9 187.4,378.4 187.6,378.7 187.7,379.1 195.1,379.4 202.6,379.8 182.3,380.4 184.6,380.7 195.2,380.9 193.4,381.3 203.5,381.9 214.1,382.3 204.9,382.7 194.9,383.3 199.2,383.6 192.2,384.4 201.4,384.7 182.2,385.5 188.4,386.1 190.1,386.5 188.8,386.7 194.7,386.9 187.6,387.1 191.8,387.8 188.7,388.2 190.8,388.8 187.9,389.1 186.6,389.8 182.5,390.4 186.6,390.9 192.6,391.5 190.7,392.1 186.2,392.3 179.2,393.0 187.0,393.2 187.6,393.8 184.3,394.1 188.4,394.7 192.3,394.9 183.7,395.4 192.2,395.8 184.8,396.5 188.9,396.8 178.0,397.1 184.1,397.3 186.4,397.8 181.3,398.1 178.0,398.5 182.0,398.9 191.3,399.3 186.3,399.8 190.7,400.2 189.8,400.7 178.2,401.3 188.5,401.8 205.1,402.4 190.9,402.7 190.2,403.3 193.2,403.7 189.6,404.0 183.7,404.4 190.9,404.7 179.0,405.2 188.2,405.8 194.7,406.4 189.8,407.1 192.0,407.7 183.2,408.1 189.3,408.6 193.6,408.8 186.8,409.4 180.4,410.1 190.1,410.3 183.7,411.0 189.2,411.5 179.0,411.7 197.4,412.4 199.1,412.7 192.9,412.9 190.1,413.4 189.7,413.8 184.0,414.1 188.7,414.8 193.0,415.1 190.5,415.7 194.9,416.1 184.0,416.7 188.0,417.3 184.0,417.8 193.5,418.2 191.6,418.9 188.1,419.1 188.6,419.6 188.8,419.8 185.7,420.3 190.0,420.5 179.8,421.0 190.7,421.3 184.4,421.6 184.0,422.1 191.2,422.6 186.0,423.3 184.0,423.6 197.2,424.2 184.9,424.4 181.4,424.9 189.2,425.2 190.2,425.4 190.6,425.6 192.5,426.1 184.0,426.3 189.8,426.9 195.2,427.2 184.0,427.9 184.0,428.5 195.6,428.7 189.9,428.9 187.9,429.4 190.2,429.8 192.7,430.2 193.3,430.7 197.4,431.3 196.0,431.6 191.3,431.9 213.9,432.4 196.0,432.7 204.5,433.2 214.7,433.5 204.2,433.7 188.9,434.2 191.6,434.9 193.3,435.3 188.7,435.5 196.4,436.1 197.0,436.7 195.1,436.9 202.7,437.1 196.2,437.7 195.8,438.2 192.8,438.6 200.6,439.1 200.3,439.8 195.5,440.3 186.9,440.8 180.7,441.0 176.8,441.3 181.5,441.5 187.5,441.8 185.8,442.1 175.6,442.6 186.0,443.0 196.2,443.2 200.6,443.5 190.9,443.8 189.0,444.3 194.2,444.6 195.2,444.8 199.3,445.5 189.3,446.1 195.2,446.7 192.6,447.3 193.4,447.7 199.8,447.9 196.0,448.2 193.2,448.8 195.2,449.0 187.3,449.6 192.3,450.2 189.3,450.5 189.4,451.0 190.9,451.3 189.9,451.5 197.0,451.7 196.9,451.9 194.5,452.6 196.8,452.8 198.3,453.0 195.3,453.6 188.4,453.9 194.3,454.5 193.2,455.2 195.8,455.5 195.8,455.9 197.2,456.3 192.0,456.8 197.2,457.0 196.9,457.4 199.6,457.9 197.4,458.4 194.4,459.0 193.3,459.2 186.0,459.5 202.0,460.2 208.1,460.6 214.5,461.1 208.3,461.5 201.7,462.0 192.1,462.3 190.3,462.5 194.5,463.3 189.8,463.4 195.9,464.1 190.5,464.7 194.2,465.4 189.6,466.1 195.4,466.7 187.5,467.3 186.0,468.0 193.9,468.4 192.3,469.0 198.0,469.5 194.0,470.1 186.5,470.6 198.5,471.0 187.6,471.2 190.9,471.6 197.3,472.0 195.9,472.4 197.5,472.9 196.2,473.1 194.7,473.8 195.9,474.1 197.9,474.6 197.3,475.2 191.0,475.8 191.2,476.2 190.7,476.9 198.6,477.1 197.3,477.4 202.2,477.8 196.6,478.0 203.0,478.3 202.6,479.0 192.3,479.4 197.6,479.8 188.6,480.3 192.5,481.0 203.0,481.7 200.1,482.2 202.1,482.5 191.7,482.8 200.0,483.2 202.5,483.7 215.8,484.2 198.4,484.7 202.6,485.0 201.4,485.5 198.4,486.1 192.3,486.7 194.3,487.3 198.7,487.9 195.8,488.2 199.8,488.8 198.1,489.4 196.9,490.0" fill="none" stroke="#955b2b" stroke-width="0.95" stroke-opacity="1.0" stroke-linejoin="miter"/>
<line x1="161.60" y1="491.60" x2="218.50" y2="491.60" stroke="#955b2b" stroke-width="0.8"/>
<line x1="161.60" y1="491.60" x2="161.60" y2="497.40" stroke="#955b2b" stroke-width="0.8"/>
<line x1="175.50" y1="491.60" x2="175.50" y2="497.40" stroke="#955b2b" stroke-width="0.8"/>
<line x1="189.60" y1="491.60" x2="189.60" y2="497.40" stroke="#955b2b" stroke-width="0.8"/>
<line x1="203.80" y1="491.60" x2="203.80" y2="497.40" stroke="#955b2b" stroke-width="0.8"/>
<line x1="218.50" y1="491.60" x2="218.50" y2="497.40" stroke="#955b2b" stroke-width="0.8"/>
<text x="160.4" y="505.5" font-size="7.4" fill="#955b2b" font-family='"Liberation Sans", sans-serif' text-anchor="middle">16</text>
<text x="175.8" y="505.5" font-size="7.4" fill="#955b2b" font-family='"Liberation Sans", sans-serif' text-anchor="middle">12</text>
<text x="190.4" y="505.5" font-size="7.4" fill="#955b2b" font-family='"Liberation Sans", sans-serif' text-anchor="middle">8</text>
<text x="204.2" y="505.5" font-size="7.4" fill="#955b2b" font-family='"Liberation Sans", sans-serif' text-anchor="middle">4</text>
<text x="218.8" y="505.5" font-size="7.4" fill="#955b2b" font-family='"Liberation Sans", sans-serif' text-anchor="middle">0</text>
<text x="151.4" y="517.3" font-size="10" fill="#955b2b" font-family='"Liberation Sans", sans-serif' textLength="78.4" lengthAdjust="spacingAndGlyphs">(B)&#160;&#160;MS(×10<tspan font-size="5.5" dy="-3">-5</tspan><tspan dy="3">;SI)</tspan></text>
<polyline points="267.6,58.0 268.3,58.5 277.2,58.9 274.9,59.3 271.5,59.7 274.0,60.2 276.5,60.5 270.5,61.0 269.0,61.8 288.8,62.5 268.9,63.3 273.5,64.1 274.7,64.8 276.5,65.3 269.0,65.7 270.1,66.0 280.0,66.5 281.2,67.4 268.7,68.2 285.7,68.3 268.5,68.9 275.2,68.9 285.1,69.2 268.0,69.9 278.5,70.4 271.5,71.3 278.2,72.1 268.0,72.7 285.7,73.4 268.5,74.0 268.8,73.6 280.8,74.1 278.2,74.7 273.9,75.2 267.6,75.9 275.6,76.2 269.4,77.1 276.1,77.9 269.6,78.2 267.6,78.6 268.8,79.4 279.3,79.8 271.5,80.3 281.0,81.0 276.1,81.6 296.0,81.6 268.5,82.2 271.7,82.1 278.0,82.5 278.8,83.3 280.7,83.9 268.4,84.3 288.7,84.6 268.5,85.2 271.2,84.8 269.2,85.5 279.6,86.3 283.1,86.6 279.1,87.1 279.2,87.6 269.0,88.1 270.5,88.6 267.9,89.4 272.1,90.1 268.7,90.9 269.8,91.3 287.7,91.8 268.5,92.4 267.3,91.8 269.8,92.4 270.9,93.2 273.8,94.0 270.0,94.8 286.7,94.9 268.5,95.5 268.8,95.2 287.1,95.7 281.0,96.4 275.2,96.9 271.0,97.5 275.9,98.3 278.8,98.6 300.0,98.9 268.5,99.5 279.7,99.1 272.0,99.5 267.4,100.4 268.3,100.8 268.3,101.5 271.2,101.8 275.1,102.4 276.1,103.2 267.9,103.7 268.7,104.5 270.6,105.4 278.8,105.9 269.1,106.7 278.7,107.3 279.2,108.0 272.8,108.9 268.3,109.7 281.1,110.3 269.1,110.7 276.7,111.2 271.2,111.7 268.7,112.4 283.3,112.8 268.1,113.2 277.5,114.0 267.5,114.5 301.0,115.3 268.5,115.9 271.8,115.3 271.7,115.8 269.8,116.2 277.3,117.0 273.7,117.4 272.7,118.2 269.4,118.8 273.4,119.4 292.3,120.1 268.8,120.5 277.1,120.9 281.1,121.5 268.6,121.9 269.5,122.5 282.7,123.0 272.0,123.8 268.3,124.5 275.6,125.3 270.2,126.1 267.8,126.9 269.6,127.7 269.3,128.1 268.6,128.9 269.7,129.3 278.9,129.6 272.2,129.9 267.5,130.3 280.2,130.7 275.9,131.4 273.6,131.9 270.9,132.7 268.5,133.5 268.7,133.9 268.4,134.8 268.1,135.5 271.9,136.4 271.6,136.9 274.3,137.4 281.0,138.1 270.5,138.7 294.2,139.2 270.1,139.5 277.1,140.3 272.8,140.7 271.2,141.4 267.5,142.0 291.1,142.5 283.0,142.9 268.5,143.5 289.7,143.3 268.4,143.8 274.5,144.4 268.9,145.3 267.5,146.0 273.4,146.8 270.5,147.2 271.0,147.8 274.4,148.7 274.7,149.4 278.1,149.9 268.1,150.5 269.0,150.9 270.9,151.5 276.2,151.9 301.0,152.0 268.5,152.6 267.6,152.5 267.6,153.1 267.5,153.8 278.4,154.1 269.2,154.6 273.7,155.4 297.0,155.8 268.9,156.4 268.9,157.0 277.9,157.6 300.0,158.3 267.9,159.0 277.9,159.3 274.6,160.0 267.8,160.5 277.2,161.0 270.4,161.7 267.6,162.2 277.9,162.7 275.8,163.2 286.7,163.3 268.5,163.9 272.8,163.6 267.4,164.0 270.5,164.8 275.1,165.3 267.9,165.7 269.7,166.4 268.3,167.1 277.6,167.9 279.7,168.5 270.0,168.8 276.3,169.6 276.8,170.0 278.5,170.7 271.1,171.3 269.4,172.0 276.3,172.5 270.5,173.3 267.5,174.0 270.7,174.7 273.5,175.4 268.0,176.2 269.0,177.0 267.5,177.3 277.2,178.0 269.7,178.4 285.0,179.0 268.5,179.6 283.0,179.1 277.4,179.6 267.3,180.1 275.8,180.8 271.9,181.6 270.2,182.4 267.4,182.8 277.0,183.5 272.6,184.0 274.6,184.9 267.8,185.5 271.9,186.3 269.1,187.2 267.6,187.8 269.2,188.1 268.5,188.7 294.8,189.4 268.5,190.0 269.6,189.5 269.0,190.1 268.5,190.8 274.2,191.7 275.5,192.5 271.7,193.4 271.8,193.7 275.5,194.6 269.5,195.4 280.0,196.2 267.6,197.1 267.8,197.5 277.9,198.0 268.1,198.4 268.2,199.1 267.7,200.0 297.5,200.2 268.5,200.8 274.7,200.5 269.6,201.1 267.7,201.7 273.2,202.5 268.9,202.9 269.7,203.6 273.9,204.1 271.9,205.0 282.1,205.3 280.1,206.2 279.9,207.1 280.5,207.5 274.8,208.4 267.6,209.1 274.0,209.8 278.4,210.7 268.6,211.2 276.8,211.6 277.7,212.2 272.2,212.5 273.6,213.0 267.8,213.8 269.2,214.3 267.7,214.9 269.6,215.7 271.8,216.3 269.4,216.9 281.4,217.8 268.1,218.1 276.6,218.9 305.0,219.0 268.5,219.6 269.7,219.4 271.6,219.9 268.6,220.6 269.1,221.1 277.6,221.8 268.4,222.4 267.4,223.0 274.6,223.4 269.1,224.3 272.8,224.9 283.4,225.4 300.0,225.7 269.3,226.5 268.7,227.4 274.8,227.9 281.1,228.6 269.6,229.4 268.2,230.2 268.7,231.3 267.3,232.4 269.8,233.7 269.1,235.3 267.9,236.4 267.9,237.8 268.2,238.8 267.4,240.1 269.8,241.2 269.7,242.7 267.7,243.7 268.7,244.7 268.1,246.2 277.4,246.8 268.7,247.7 277.3,248.3 267.6,248.7 271.0,249.5 286.7,249.8 277.2,250.1 269.1,250.5 278.5,251.3 268.2,251.6 268.1,252.0 297.0,252.8 268.5,253.4 270.4,252.8 269.4,253.6 280.5,254.1 268.2,255.0 274.6,255.7 269.0,256.5 267.8,257.5 268.9,258.4 267.9,259.8 272.4,260.6 267.3,262.0 268.8,263.2 267.7,264.2 267.9,265.4 268.1,266.5 268.9,267.6 267.8,269.1 269.4,270.4 269.6,270.7 283.6,271.0 268.5,271.6 267.4,271.3 267.7,271.7 269.2,272.4 267.8,272.8 268.5,273.7 267.4,274.5 267.9,275.2 268.7,275.6 272.6,276.3 268.3,276.9 277.6,277.8 273.6,278.5 273.2,279.2 268.1,279.8 268.1,280.3 280.7,281.0 268.1,281.6 276.3,282.0 269.2,282.4 273.5,282.8 290.0,283.0 268.5,283.6 279.5,283.6 268.2,284.0 270.9,284.5 277.2,285.0 292.3,285.5 268.6,286.2 269.2,286.8 269.7,287.2 269.3,287.7 268.5,288.5 269.6,288.8 295.9,289.0 268.5,289.6 273.4,289.7 269.1,290.2 267.6,291.0 270.8,291.3 281.8,291.7 272.7,292.4 270.4,292.9 267.4,293.7 268.1,294.0 275.9,294.7 268.8,295.1 267.7,295.6 269.8,296.1 273.8,296.8 287.0,297.2 268.3,297.7 267.7,298.0 278.5,298.4 268.6,299.2 275.5,299.7 268.0,300.4 271.2,301.1 268.4,301.5 274.0,302.3 268.3,302.9 271.7,303.5 268.3,304.2 267.5,304.6 277.7,305.1 268.1,306.0 268.5,306.7 268.9,307.5 274.3,308.3 269.5,308.8 268.1,309.4 276.3,309.7 268.9,310.3 269.2,310.7 268.9,311.3 268.3,311.7 270.4,312.5 274.1,313.1 268.3,313.9 269.4,314.3 269.1,314.9 279.6,315.4 267.4,316.3 268.6,317.1 269.4,317.4 268.3,318.1 269.3,318.6 276.9,319.0 267.9,319.4 269.7,320.0 269.9,320.5 273.8,321.1 268.4,321.8 268.5,322.2 268.8,323.0 278.8,323.7 269.3,324.6 271.1,325.2 307.0,325.3 268.5,325.9 272.4,325.9 268.6,326.2 278.3,326.6 268.3,327.4 268.4,327.9 281.7,328.3 268.8,329.2 277.6,330.0 268.1,330.8 268.2,331.5 267.9,332.3 278.1,333.0 275.1,333.5 272.5,334.0 285.7,334.0 268.5,334.6 268.2,334.5 275.8,335.4 282.3,336.1 276.0,336.5 272.2,337.2 269.0,337.5 268.2,338.4 271.3,338.9 281.3,339.7 277.1,340.5 268.4,341.3 268.2,342.2 269.5,343.1 267.7,344.0 323.5,345.3 268.5,345.9 269.5,345.5 269.6,347.0 268.8,348.5 276.6,349.5 267.5,350.3 267.3,351.7 268.7,353.3 267.3,354.7 268.8,355.5 275.4,357.0 269.5,358.4 268.0,359.7 270.0,360.7 267.9,361.9 268.8,362.8 268.7,363.9 292.3,365.0 270.7,365.5 276.1,366.4 274.6,367.1 278.9,367.5 306.0,367.8 268.5,368.4 272.4,368.2 273.5,369.0 272.8,369.6 282.8,370.1 269.5,370.9 269.3,371.2 270.9,371.6 267.4,372.3 269.4,372.8 291.8,372.9 268.5,373.5 267.7,373.2 267.7,374.1 274.0,374.9 268.6,375.5 269.3,376.0 267.6,377.0 269.6,377.8 267.5,379.2 271.7,380.1 268.2,381.4 268.1,382.5 268.2,383.8 269.4,385.0 267.4,386.4 268.9,387.9 284.6,389.2 268.5,389.8 278.9,389.4 268.8,390.6 267.7,391.5 267.9,393.0 267.4,394.0 269.3,395.5 268.4,396.8 268.7,398.1 274.3,398.9 297.0,399.4 268.5,400.0 269.0,400.0 267.9,400.9 277.5,402.3 268.7,403.7 268.6,404.6 268.3,405.6 269.2,407.0 269.0,408.5 267.7,409.3 270.0,410.6 267.3,411.6 268.1,412.8 267.7,414.0 268.1,415.5 268.7,416.8 268.4,417.9 267.6,419.0 268.7,420.0 267.6,421.5 269.6,422.8 268.4,424.4 267.5,425.8 269.7,426.9 269.3,428.3 267.4,429.2 269.0,430.3 267.9,431.6 278.5,432.7 268.5,433.3 268.6,433.2 269.5,434.7 268.6,435.6 269.5,436.8 267.6,437.7 268.0,438.6 267.5,439.7 267.7,441.2 268.5,442.2 269.6,443.4 268.3,444.5 268.6,445.6 268.1,447.1 268.3,448.4 268.0,449.8 269.5,450.7 269.5,452.3 267.7,453.9 270.2,455.3 268.4,456.8 268.4,458.3 269.5,459.7 268.2,461.1 268.0,462.0 281.6,462.3 268.5,462.9 267.7,462.9 267.8,464.3 269.6,465.8 268.2,467.2 267.6,468.1 268.0,469.6 269.2,471.0 268.5,471.8 267.6,473.1 268.8,474.7 268.0,476.0 269.4,477.1 268.5,478.2 269.0,479.3 267.9,480.6 268.8,481.7 268.2,483.1 268.2,484.1 269.7,485.6 268.6,487.0 268.8,487.9 268.8,489.2 268.1,490.8" fill="none" stroke="#e6101c" stroke-width="0.7" stroke-opacity="1.0" stroke-linejoin="miter"/>
<line x1="264.70" y1="57.50" x2="322.30" y2="57.50" stroke="#e6101c" stroke-width="0.8"/>
<line x1="264.70" y1="52.20" x2="264.70" y2="57.50" stroke="#e6101c" stroke-width="0.8"/>
<line x1="279.20" y1="52.20" x2="279.20" y2="57.50" stroke="#e6101c" stroke-width="0.8"/>
<line x1="293.40" y1="52.20" x2="293.40" y2="57.50" stroke="#e6101c" stroke-width="0.8"/>
<line x1="307.80" y1="52.20" x2="307.80" y2="57.50" stroke="#e6101c" stroke-width="0.8"/>
<line x1="322.30" y1="52.20" x2="322.30" y2="57.50" stroke="#e6101c" stroke-width="0.8"/>
<text x="264.7" y="50.2" font-size="7.4" fill="#e6101c" font-family='"Liberation Sans", sans-serif' text-anchor="middle">0</text>
<text x="293.4" y="50.2" font-size="7.4" fill="#e6101c" font-family='"Liberation Sans", sans-serif' text-anchor="middle">0.1</text>
<text x="321.0" y="50.2" font-size="7.4" fill="#e6101c" font-family='"Liberation Sans", sans-serif' text-anchor="middle">0.2</text>
<text x="267.0" y="40.6" font-size="10.4" fill="#e6101c" font-family='"Liberation Sans", sans-serif' textLength="54" lengthAdjust="spacingAndGlyphs">(C)&#160;&#160;Mn/Fe</text>
<polyline points="372.0,58.0 357.3,58.9 363.0,60.4 369.9,61.7 382.6,63.3 373.8,64.2 372.8,66.2 382.2,67.1 364.7,68.7 365.9,69.7 385.4,71.1 370.8,72.1 369.6,73.3 362.7,75.1 378.2,75.8 363.5,76.9 369.4,77.9 376.2,79.5 347.3,81.3 352.8,81.7 377.7,83.3 355.2,85.0 358.5,85.8 379.1,87.5 359.9,88.4 361.5,90.4 373.6,92.3 367.4,93.9 381.3,94.7 379.6,95.5 367.1,96.2 367.1,97.4 362.7,98.4 364.1,100.1 376.1,101.2 353.8,102.5 370.7,104.2 353.9,105.2 340.7,107.0 368.7,107.1 360.0,108.0 350.2,110.2 368.2,112.1 359.2,114.1 371.5,116.0 351.7,118.0 351.7,120.0 352.0,122.2 371.1,123.4 355.5,124.9 369.3,126.6 353.6,128.7 374.3,130.1 360.6,131.2 369.4,133.2 363.6,134.7 370.4,135.8 365.3,137.1 361.0,138.3 377.1,139.1 388.0,139.3 375.7,140.7 352.3,142.1 353.6,144.0 364.9,146.2 359.8,147.7 375.7,148.5 354.8,150.6 373.3,151.9 375.5,153.9 364.9,155.7 360.5,156.8 380.3,158.3 355.9,160.2 352.8,162.3 380.0,163.5 355.4,165.1 372.9,165.9 381.1,166.8 358.9,167.8 375.2,168.8 361.9,170.0 362.1,171.9 348.9,173.0 357.2,174.9 364.8,175.8 331.5,176.3 353.8,177.0 355.8,178.5 371.9,180.6 359.0,181.4 375.0,183.6 351.6,184.9 368.6,186.7 359.7,188.0 355.5,189.0 369.9,190.2 357.6,191.6 370.7,193.7 357.9,195.5 366.1,196.4 356.6,198.3 370.2,199.5 362.3,200.8 369.9,201.5 364.6,203.3 349.9,205.1 365.2,206.4 354.1,207.2 375.5,208.2 372.6,210.1 350.6,212.2 374.0,213.1 349.3,215.1 362.1,217.2 348.6,217.9 362.6,220.1 349.6,220.8 365.5,222.6 348.3,224.6 368.7,226.0 356.0,227.4 366.4,229.2 347.3,230.3 375.8,231.9 355.3,233.6 367.6,235.4 346.7,236.9 374.1,238.4 348.7,239.5 365.8,240.7 352.3,242.5 347.6,244.3 380.0,245.4 373.5,247.3 317.0,248.7 360.1,249.2 354.1,250.7 354.1,252.4 348.7,253.5 349.6,255.0 377.4,255.7 386.7,255.8 358.5,257.0 363.7,257.8 364.0,259.8 308.0,260.0 347.0,261.5 352.2,262.4 341.0,264.4 366.5,265.4 359.2,267.2 367.2,268.4 368.1,270.1 354.2,270.9 364.5,272.3 356.2,274.4 367.9,276.1 359.1,277.4 365.5,278.1 355.8,279.6 369.8,281.6 356.3,282.9 363.8,284.8 356.6,286.5 359.0,287.7 369.6,288.7 352.9,289.4 339.4,289.6 346.9,290.6 358.5,291.9 366.2,292.6 353.2,293.6 350.8,295.5 359.4,297.4 351.2,298.4 352.6,300.3 357.0,302.1 360.9,303.5 367.9,305.1 356.1,306.2 365.7,308.0 357.3,310.0 365.0,311.6 355.8,312.5 358.7,313.6 365.2,315.1 351.5,316.0 362.6,317.1 355.0,318.5 360.1,320.6 353.9,322.4 364.3,323.5 359.4,324.3 356.2,325.1 350.8,325.8 366.3,327.2 353.2,328.5 363.9,330.6 358.7,332.8 368.1,334.8 382.8,334.8 361.1,336.8 371.7,338.1 364.9,340.1 369.9,341.3 351.8,342.1 372.9,343.0 352.1,345.1 378.4,347.1 367.5,348.7 352.9,349.7 376.3,351.9 345.7,352.9 368.2,354.6 355.0,356.0 370.8,357.4 363.3,358.5 375.2,359.9 368.7,361.4 369.9,362.8 358.6,364.1 355.2,366.0 373.7,367.6 382.8,368.0 362.0,369.1 371.9,371.2 370.1,372.9 357.7,374.2 366.9,376.3 356.8,377.3 360.2,379.3 364.8,380.2 360.2,381.0 361.2,381.8 372.2,383.2 360.6,384.8 334.0,385.7 349.7,386.5 360.5,387.9 348.5,389.8 361.5,390.6 343.3,391.5 354.3,393.0 348.2,394.6 356.9,395.7 338.9,397.5 363.2,399.1 346.2,401.1 362.2,402.1 340.8,403.8 349.3,405.6 345.6,407.6 354.3,409.2 351.3,410.0 362.5,411.9 371.2,414.1 344.8,415.9 366.5,417.1 345.0,418.2 362.9,419.6 356.4,421.1 360.0,422.3 368.2,423.0 377.7,424.4 348.9,425.8 379.4,427.8 352.3,429.6 353.0,431.7 363.1,433.4 329.0,434.0 351.6,434.1 359.1,435.0 349.4,436.6 362.2,438.6 361.7,439.5 338.6,440.9 365.3,441.9 363.2,443.0 363.7,443.8 344.7,445.4 348.8,447.0 361.9,448.0 364.2,450.1 339.4,451.3 364.8,453.0 366.3,454.5 338.4,455.7 362.8,457.6 340.4,459.0 359.9,460.2 354.6,461.1 327.6,463.0 337.4,463.2 359.6,465.3 338.2,466.4 347.3,468.6 337.9,469.5 364.9,471.5 340.0,472.7 347.1,474.3 356.9,475.9 339.2,477.8 367.8,478.7 341.4,480.3 358.6,481.0 350.2,482.2 344.9,483.8 360.2,485.4 342.9,487.0 368.3,489.0 354.3,490.4 362.0,491.7" fill="none" stroke="#c8203a" stroke-width="0.85" stroke-opacity="1.0" stroke-linejoin="round"/>
<line x1="306.10" y1="494.20" x2="399.50" y2="494.20" stroke="#c8203a" stroke-width="0.8"/>
<line x1="306.10" y1="494.20" x2="306.10" y2="498.90" stroke="#c8203a" stroke-width="0.8"/>
<line x1="337.30" y1="494.20" x2="337.30" y2="498.90" stroke="#c8203a" stroke-width="0.8"/>
<line x1="368.30" y1="494.20" x2="368.30" y2="498.90" stroke="#c8203a" stroke-width="0.8"/>
<line x1="399.50" y1="494.20" x2="399.50" y2="498.90" stroke="#c8203a" stroke-width="0.8"/>
<text x="306.1" y="507.7" font-size="7.4" fill="#c8203a" font-family='"Liberation Sans", sans-serif' text-anchor="middle">30</text>
<text x="336.6" y="507.7" font-size="7.4" fill="#c8203a" font-family='"Liberation Sans", sans-serif' text-anchor="middle">20</text>
<text x="368.0" y="507.7" font-size="7.4" fill="#c8203a" font-family='"Liberation Sans", sans-serif' text-anchor="middle">10</text>
<text x="399.0" y="507.7" font-size="7.4" fill="#c8203a" font-family='"Liberation Sans", sans-serif' text-anchor="middle">0</text>
<text x="322.4" y="518.6" font-size="10.2" fill="#c8203a" font-family='"Liberation Sans", sans-serif' textLength="60.8" lengthAdjust="spacingAndGlyphs">(D)&#160;&#160;illite (%)</text>
<polyline points="458.9,58.0 433.1,58.7 463.0,60.7 434.3,61.6 465.6,63.3 465.3,65.0 429.1,66.4 418.2,66.8 445.3,68.2 459.5,69.0 434.7,70.8 450.2,71.8 429.7,73.2 456.4,75.1 431.5,76.6 446.7,77.9 434.2,79.5 457.9,81.4 443.5,83.1 463.4,84.1 440.5,85.3 460.8,86.8 443.8,88.0 465.5,88.7 438.4,90.0 468.2,90.7 450.7,91.4 456.5,92.8 468.4,93.9 445.5,94.6 427.4,95.7 463.0,96.3 440.9,98.2 461.3,99.1 448.6,100.0 457.3,101.9 446.0,103.9 457.7,105.7 447.3,107.7 450.3,109.6 460.7,111.6 443.8,112.6 458.5,113.9 449.5,114.6 462.7,116.0 454.2,116.9 464.7,118.6 457.0,119.4 460.9,120.2 457.0,120.9 464.5,121.9 457.1,123.3 454.3,125.1 461.5,126.5 447.3,128.2 464.8,129.7 447.6,130.6 463.3,132.3 446.6,133.1 443.0,134.0 445.6,135.0 451.0,136.9 457.5,138.2 449.9,138.9 454.0,140.6 450.2,141.3 455.9,143.1 449.5,144.1 465.2,145.4 456.7,146.4 447.9,148.2 466.1,150.0 451.3,150.8 459.6,152.0 446.3,153.4 468.3,154.5 447.4,155.3 463.2,157.0 441.9,158.0 442.3,160.0 461.2,160.8 453.6,162.3 459.9,164.0 442.7,165.5 427.4,165.5 456.7,166.9 440.1,168.3 449.6,169.2 466.3,170.1 457.5,172.1 459.5,173.5 467.6,174.4 459.7,175.2 464.0,176.5 456.4,177.9 456.8,178.7 470.4,180.1 455.1,182.0 470.8,182.8 457.6,184.7 470.0,186.7 456.5,188.3 462.9,190.2 454.0,191.1 459.6,192.7 465.1,194.6 470.9,196.2 461.5,197.8 469.3,199.5 460.1,200.7 464.9,201.5 460.3,202.3 468.1,203.8 462.3,205.7 464.8,206.7 452.1,207.9 469.8,208.8 451.7,209.8 464.8,210.7 452.1,211.9 452.6,213.4 466.3,214.3 464.2,215.5 455.4,216.6 466.9,218.5 456.4,220.4 462.7,221.1 457.9,222.7 460.0,224.5 469.2,225.4 459.5,227.0 463.0,228.1 447.9,229.9 434.0,230.0 465.6,231.5 476.0,232.0 471.7,233.3 450.4,235.2 456.7,236.8 441.3,237.5 468.0,239.4 450.3,240.4 472.2,241.1 455.9,242.5 467.2,244.0 450.4,245.8 473.1,246.6 457.5,247.8 471.7,249.2 445.7,250.3 470.4,251.7 458.8,253.3 473.3,255.0 445.2,256.2 462.5,257.2 447.7,258.8 463.1,260.6 446.2,261.6 428.7,262.4 462.7,263.2 463.2,264.9 458.2,266.5 469.8,267.8 456.0,268.8 461.5,269.8 457.5,270.5 462.6,271.5 454.0,272.8 454.8,274.3 463.2,275.5 465.5,276.8 457.4,277.6 463.2,278.6 457.2,280.2 462.1,281.4 456.1,283.3 465.0,284.4 458.4,285.5 466.9,286.8 459.7,288.6 465.3,290.5 451.1,292.4 439.3,294.1 446.0,294.9 435.3,296.9 451.5,298.1 435.9,300.0 449.4,301.5 442.6,303.0 436.5,303.8 449.4,305.8 444.2,306.6 460.3,307.5 451.5,308.5 458.2,310.4 460.0,312.0 443.0,313.2 441.9,314.1 443.6,315.3 455.2,317.1 441.8,318.0 453.2,319.1 435.8,319.8 441.6,320.6 436.5,322.6 432.7,324.4 450.9,325.3 434.2,327.0 440.3,328.3 457.2,329.9 429.8,330.8 462.0,331.9 436.9,333.4 451.5,334.3 437.4,335.7 441.6,336.6 437.5,337.4 447.8,338.7 441.1,340.6 438.5,342.4 457.6,344.0 429.2,345.0 455.8,346.3 435.6,347.6 446.3,349.0 435.4,350.8 443.3,352.6 433.0,354.4 435.0,355.4 418.2,356.0 442.0,356.4 440.5,358.0 430.9,359.7 452.8,361.0 438.2,362.7 450.9,364.1 441.9,364.9 450.6,366.6 437.3,367.4 451.6,369.1 451.1,370.0 444.4,371.0 442.0,371.7 442.9,373.3 449.6,375.1 435.4,376.4 454.0,377.6 450.9,378.6 437.1,380.2 453.5,381.8 434.4,383.4 448.1,385.0 437.6,385.7 461.7,386.7 439.6,387.6 449.9,389.0 433.4,390.5 457.2,391.6 435.1,392.5 453.3,393.7 437.1,394.9 445.4,396.4 459.0,398.1 439.5,399.7 457.7,401.4 439.0,403.4 459.8,404.3 455.7,406.3 467.5,407.6 456.6,408.8 458.7,409.7 440.4,411.5 461.2,413.1 449.4,414.6 465.6,416.2 427.4,417.5 436.1,417.6 451.7,419.1 455.9,420.4 441.2,422.2 454.4,423.7 458.5,424.8 453.8,426.0 459.4,427.0 445.9,428.0 461.3,429.2 465.0,431.1 441.8,432.0 467.5,433.6 466.5,435.4 440.5,436.8 455.8,437.9 448.7,438.9 430.0,439.8 455.0,440.2 446.3,441.2 438.4,442.7 453.9,443.5 449.4,445.1 462.0,446.8 466.8,448.0 445.6,449.3 467.3,451.1 449.7,452.0 466.0,453.0 452.4,454.0 456.3,454.8 456.0,456.0 440.5,456.7 464.5,458.0 467.3,459.7 445.3,460.5 465.8,461.6 435.7,463.0 457.6,464.7 457.1,465.9 442.8,467.5 462.3,469.3 450.8,470.1 440.3,471.6 430.1,472.8 460.4,473.8 460.0,475.3 442.3,477.1 458.0,478.1 435.9,480.1 450.3,481.0 420.9,482.6 434.8,482.9 459.4,484.6 424.0,485.0 444.8,486.6 442.0,487.5 460.4,488.5 456.6,490.5" fill="none" stroke="#e8168c" stroke-width="0.9" stroke-opacity="1.0" stroke-linejoin="round"/>
<line x1="411.60" y1="57.70" x2="481.70" y2="57.70" stroke="#e8168c" stroke-width="0.8"/>
<line x1="411.60" y1="54.10" x2="411.60" y2="57.70" stroke="#e8168c" stroke-width="0.8"/>
<line x1="429.00" y1="54.10" x2="429.00" y2="57.70" stroke="#e8168c" stroke-width="0.8"/>
<line x1="446.70" y1="54.10" x2="446.70" y2="57.70" stroke="#e8168c" stroke-width="0.8"/>
<line x1="464.20" y1="54.10" x2="464.20" y2="57.70" stroke="#e8168c" stroke-width="0.8"/>
<line x1="481.70" y1="54.10" x2="481.70" y2="57.70" stroke="#e8168c" stroke-width="0.8"/>
<text x="410.7" y="51.8" font-size="7.4" fill="#e8168c" font-family='"Liberation Sans", sans-serif' text-anchor="middle">1.6</text>
<text x="428.3" y="51.8" font-size="7.4" fill="#e8168c" font-family='"Liberation Sans", sans-serif' text-anchor="middle">1.2</text>
<text x="446.0" y="51.8" font-size="7.4" fill="#e8168c" font-family='"Liberation Sans", sans-serif' text-anchor="middle">0.8</text>
<text x="464.5" y="51.8" font-size="7.4" fill="#e8168c" font-family='"Liberation Sans", sans-serif' text-anchor="middle">0.40</text>
<text x="382.7" y="40.3" font-size="10.4" fill="#e8168c" font-family='"Liberation Sans", sans-serif' textLength="134" lengthAdjust="spacingAndGlyphs">(E)&#160;&#160;Smectite/(illite+Chlorite)</text>
<line x1="69.2" y1="120.5" x2="534.5" y2="120.5" stroke="#1a1a1a" stroke-width="1.25" stroke-dasharray="8 7.5" stroke-dashoffset="4.4"/>
<line x1="69.2" y1="212.5" x2="534.5" y2="212.5" stroke="#1a1a1a" stroke-width="1.25" stroke-dasharray="8 7.5" stroke-dashoffset="4.4"/>
<text x="381.7" y="135.8" font-size="12.6" fill="#1a1a1a" font-family='"Liberation Sans", sans-serif' textLength="53.5" lengthAdjust="spacingAndGlyphs">~10.5 Ma</text>
<text x="385.0" y="226.6" font-size="12.6" fill="#1a1a1a" font-family='"Liberation Sans", sans-serif' textLength="52.5" lengthAdjust="spacingAndGlyphs">~11.4 Ma</text>
<text x="526.4" y="50.7" font-size="12" fill="#111" font-family='"Liberation Sans", sans-serif' textLength="39.7" lengthAdjust="spacingAndGlyphs">Polarity</text>
<text x="501.6" y="58.2" font-size="7.9" fill="#222" font-family='"Liberation Serif", serif' textLength="28" lengthAdjust="spacingAndGlyphs">Depth/m</text>
<rect x="534.70" y="59.00" width="25.90" height="524.50" fill="#000" stroke="none" stroke-width="1"/>
<rect x="535.30" y="162.70" width="24.70" height="10.60" fill="#fff" stroke="none" stroke-width="1"/>
<rect x="535.30" y="199.10" width="24.70" height="21.60" fill="#fff" stroke="none" stroke-width="1"/>
<rect x="535.30" y="234.50" width="24.70" height="58.50" fill="#fff" stroke="none" stroke-width="1"/>
<rect x="535.30" y="348.80" width="24.70" height="33.30" fill="#fff" stroke="none" stroke-width="1"/>
<rect x="535.30" y="410.20" width="24.70" height="13.60" fill="#fff" stroke="none" stroke-width="1"/>
<rect x="535.30" y="429.30" width="24.70" height="14.80" fill="#fff" stroke="none" stroke-width="1"/>
<rect x="535.30" y="481.20" width="24.70" height="11.60" fill="#fff" stroke="none" stroke-width="1"/>
<rect x="535.30" y="573.90" width="24.70" height="9.60" fill="#fff" stroke="none" stroke-width="1"/>
<rect x="534.70" y="185.60" width="13.60" height="1.80" fill="#fff" stroke="none" stroke-width="1"/>
<rect x="534.70" y="320.60" width="13.60" height="1.60" fill="#fff" stroke="none" stroke-width="1"/>
<rect x="534.70" y="332.40" width="13.60" height="1.60" fill="#fff" stroke="none" stroke-width="1"/>
<rect x="534.70" y="508.40" width="13.60" height="1.60" fill="#fff" stroke="none" stroke-width="1"/>
<rect x="534.70" y="540.00" width="13.60" height="1.60" fill="#fff" stroke="none" stroke-width="1"/>
<line x1="535.30" y1="583.20" x2="560.00" y2="583.20" stroke="#888" stroke-width="0.8"/>
<line x1="560.20" y1="573.90" x2="560.20" y2="583.50" stroke="#888" stroke-width="0.8"/>
<line x1="532.10" y1="60.83" x2="534.70" y2="60.83" stroke="#333" stroke-width="0.8"/>
<line x1="532.10" y1="65.52" x2="534.70" y2="65.52" stroke="#333" stroke-width="0.8"/>
<line x1="529.20" y1="70.20" x2="534.70" y2="70.20" stroke="#333" stroke-width="0.8"/>
<text x="527.0" y="74.5" font-size="9.7" fill="#222" font-family='"Liberation Sans", sans-serif' text-anchor="end" textLength="15.6" lengthAdjust="spacingAndGlyphs">500</text>
<line x1="532.10" y1="74.88" x2="534.70" y2="74.88" stroke="#333" stroke-width="0.8"/>
<line x1="532.10" y1="79.57" x2="534.70" y2="79.57" stroke="#333" stroke-width="0.8"/>
<line x1="532.10" y1="84.25" x2="534.70" y2="84.25" stroke="#333" stroke-width="0.8"/>
<line x1="532.10" y1="88.94" x2="534.70" y2="88.94" stroke="#333" stroke-width="0.8"/>
<line x1="529.20" y1="93.62" x2="534.70" y2="93.62" stroke="#333" stroke-width="0.8"/>
<text x="527.0" y="97.92" font-size="9.7" fill="#222" font-family='"Liberation Sans", sans-serif' text-anchor="end" textLength="15.6" lengthAdjust="spacingAndGlyphs">480</text>
<line x1="532.10" y1="98.30" x2="534.70" y2="98.30" stroke="#333" stroke-width="0.8"/>
<line x1="532.10" y1="102.99" x2="534.70" y2="102.99" stroke="#333" stroke-width="0.8"/>
<line x1="532.10" y1="107.67" x2="534.70" y2="107.67" stroke="#333" stroke-width="0.8"/>
<line x1="532.10" y1="112.36" x2="534.70" y2="112.36" stroke="#333" stroke-width="0.8"/>
<line x1="529.20" y1="117.04" x2="534.70" y2="117.04" stroke="#333" stroke-width="0.8"/>
<text x="527.0" y="121.34" font-size="9.7" fill="#222" font-family='"Liberation Sans", sans-serif' text-anchor="end" textLength="15.6" lengthAdjust="spacingAndGlyphs">460</text>
<line x1="532.10" y1="121.72" x2="534.70" y2="121.72" stroke="#333" stroke-width="0.8"/>
<line x1="532.10" y1="126.41" x2="534.70" y2="126.41" stroke="#333" stroke-width="0.8"/>
<line x1="532.10" y1="131.09" x2="534.70" y2="131.09" stroke="#333" stroke-width="0.8"/>
<line x1="532.10" y1="135.78" x2="534.70" y2="135.78" stroke="#333" stroke-width="0.8"/>
<line x1="529.20" y1="140.46" x2="534.70" y2="140.46" stroke="#333" stroke-width="0.8"/>
<text x="527.0" y="144.76000000000002" font-size="9.7" fill="#222" font-family='"Liberation Sans", sans-serif' text-anchor="end" textLength="15.6" lengthAdjust="spacingAndGlyphs">440</text>
<line x1="532.10" y1="145.14" x2="534.70" y2="145.14" stroke="#333" stroke-width="0.8"/>
<line x1="532.10" y1="149.83" x2="534.70" y2="149.83" stroke="#333" stroke-width="0.8"/>
<line x1="532.10" y1="154.51" x2="534.70" y2="154.51" stroke="#333" stroke-width="0.8"/>
<line x1="532.10" y1="159.20" x2="534.70" y2="159.20" stroke="#333" stroke-width="0.8"/>
<line x1="529.20" y1="163.88" x2="534.70" y2="163.88" stroke="#333" stroke-width="0.8"/>
<text x="527.0" y="168.18" font-size="9.7" fill="#222" font-family='"Liberation Sans", sans-serif' text-anchor="end" textLength="15.6" lengthAdjust="spacingAndGlyphs">420</text>
<line x1="532.10" y1="168.56" x2="534.70" y2="168.56" stroke="#333" stroke-width="0.8"/>
<line x1="532.10" y1="173.25" x2="534.70" y2="173.25" stroke="#333" stroke-width="0.8"/>
<line x1="532.10" y1="177.93" x2="534.70" y2="177.93" stroke="#333" stroke-width="0.8"/>
<line x1="532.10" y1="182.62" x2="534.70" y2="182.62" stroke="#333" stroke-width="0.8"/>
<line x1="529.20" y1="187.30" x2="534.70" y2="187.30" stroke="#333" stroke-width="0.8"/>
<text x="527.0" y="191.60000000000002" font-size="9.7" fill="#222" font-family='"Liberation Sans", sans-serif' text-anchor="end" textLength="15.6" lengthAdjust="spacingAndGlyphs">400</text>
<line x1="532.10" y1="191.98" x2="534.70" y2="191.98" stroke="#333" stroke-width="0.8"/>
<line x1="532.10" y1="196.65" x2="534.70" y2="196.65" stroke="#333" stroke-width="0.8"/>
<line x1="532.10" y1="201.33" x2="534.70" y2="201.33" stroke="#333" stroke-width="0.8"/>
<line x1="532.10" y1="206.00" x2="534.70" y2="206.00" stroke="#333" stroke-width="0.8"/>
<line x1="529.20" y1="210.68" x2="534.70" y2="210.68" stroke="#333" stroke-width="0.8"/>
<text x="527.0" y="214.98000000000002" font-size="9.7" fill="#222" font-family='"Liberation Sans", sans-serif' text-anchor="end" textLength="15.6" lengthAdjust="spacingAndGlyphs">380</text>
<line x1="532.10" y1="215.36" x2="534.70" y2="215.36" stroke="#333" stroke-width="0.8"/>
<line x1="532.10" y1="220.03" x2="534.70" y2="220.03" stroke="#333" stroke-width="0.8"/>
<line x1="532.10" y1="224.71" x2="534.70" y2="224.71" stroke="#333" stroke-width="0.8"/>
<line x1="532.10" y1="229.38" x2="534.70" y2="229.38" stroke="#333" stroke-width="0.8"/>
<line x1="529.20" y1="234.06" x2="534.70" y2="234.06" stroke="#333" stroke-width="0.8"/>
<text x="527.0" y="238.36" font-size="9.7" fill="#222" font-family='"Liberation Sans", sans-serif' text-anchor="end" textLength="15.6" lengthAdjust="spacingAndGlyphs">360</text>
<line x1="532.10" y1="238.74" x2="534.70" y2="238.74" stroke="#333" stroke-width="0.8"/>
<line x1="532.10" y1="243.41" x2="534.70" y2="243.41" stroke="#333" stroke-width="0.8"/>
<line x1="532.10" y1="248.09" x2="534.70" y2="248.09" stroke="#333" stroke-width="0.8"/>
<line x1="532.10" y1="252.76" x2="534.70" y2="252.76" stroke="#333" stroke-width="0.8"/>
<line x1="529.20" y1="257.44" x2="534.70" y2="257.44" stroke="#333" stroke-width="0.8"/>
<text x="527.0" y="261.74" font-size="9.7" fill="#222" font-family='"Liberation Sans", sans-serif' text-anchor="end" textLength="15.6" lengthAdjust="spacingAndGlyphs">340</text>
<line x1="532.10" y1="262.12" x2="534.70" y2="262.12" stroke="#333" stroke-width="0.8"/>
<line x1="532.10" y1="266.79" x2="534.70" y2="266.79" stroke="#333" stroke-width="0.8"/>
<line x1="532.10" y1="271.47" x2="534.70" y2="271.47" stroke="#333" stroke-width="0.8"/>
<line x1="532.10" y1="276.14" x2="534.70" y2="276.14" stroke="#333" stroke-width="0.8"/>
<line x1="529.20" y1="280.82" x2="534.70" y2="280.82" stroke="#333" stroke-width="0.8"/>
<text x="527.0" y="285.12" font-size="9.7" fill="#222" font-family='"Liberation Sans", sans-serif' text-anchor="end" textLength="15.6" lengthAdjust="spacingAndGlyphs">320</text>
<line x1="532.10" y1="285.50" x2="534.70" y2="285.50" stroke="#333" stroke-width="0.8"/>
<line x1="532.10" y1="290.17" x2="534.70" y2="290.17" stroke="#333" stroke-width="0.8"/>
<line x1="532.10" y1="294.85" x2="534.70" y2="294.85" stroke="#333" stroke-width="0.8"/>
<line x1="532.10" y1="299.52" x2="534.70" y2="299.52" stroke="#333" stroke-width="0.8"/>
<line x1="529.20" y1="304.20" x2="534.70" y2="304.20" stroke="#333" stroke-width="0.8"/>
<text x="527.0" y="308.5" font-size="9.7" fill="#222" font-family='"Liberation Sans", sans-serif' text-anchor="end" textLength="15.6" lengthAdjust="spacingAndGlyphs">300</text>
<line x1="532.10" y1="308.90" x2="534.70" y2="308.90" stroke="#333" stroke-width="0.8"/>
<line x1="532.10" y1="313.60" x2="534.70" y2="313.60" stroke="#333" stroke-width="0.8"/>
<line x1="532.10" y1="318.30" x2="534.70" y2="318.30" stroke="#333" stroke-width="0.8"/>
<line x1="532.10" y1="323.00" x2="534.70" y2="323.00" stroke="#333" stroke-width="0.8"/>
<line x1="529.20" y1="327.70" x2="534.70" y2="327.70" stroke="#333" stroke-width="0.8"/>
<text x="527.0" y="332.0" font-size="9.7" fill="#222" font-family='"Liberation Sans", sans-serif' text-anchor="end" textLength="15.6" lengthAdjust="spacingAndGlyphs">280</text>
<line x1="532.10" y1="332.38" x2="534.70" y2="332.38" stroke="#333" stroke-width="0.8"/>
<line x1="532.10" y1="337.07" x2="534.70" y2="337.07" stroke="#333" stroke-width="0.8"/>
<line x1="532.10" y1="341.75" x2="534.70" y2="341.75" stroke="#333" stroke-width="0.8"/>
<line x1="532.10" y1="346.44" x2="534.70" y2="346.44" stroke="#333" stroke-width="0.8"/>
<line x1="529.20" y1="351.12" x2="534.70" y2="351.12" stroke="#333" stroke-width="0.8"/>
<text x="527.0" y="355.425" font-size="9.7" fill="#222" font-family='"Liberation Sans", sans-serif' text-anchor="end" textLength="15.6" lengthAdjust="spacingAndGlyphs">260</text>
<line x1="532.10" y1="355.81" x2="534.70" y2="355.81" stroke="#333" stroke-width="0.8"/>
<line x1="532.10" y1="360.50" x2="534.70" y2="360.50" stroke="#333" stroke-width="0.8"/>
<line x1="532.10" y1="365.18" x2="534.70" y2="365.18" stroke="#333" stroke-width="0.8"/>
<line x1="532.10" y1="369.87" x2="534.70" y2="369.87" stroke="#333" stroke-width="0.8"/>
<line x1="529.20" y1="374.55" x2="534.70" y2="374.55" stroke="#333" stroke-width="0.8"/>
<text x="527.0" y="378.84999999999997" font-size="9.7" fill="#222" font-family='"Liberation Sans", sans-serif' text-anchor="end" textLength="15.6" lengthAdjust="spacingAndGlyphs">240</text>
<line x1="532.10" y1="379.24" x2="534.70" y2="379.24" stroke="#333" stroke-width="0.8"/>
<line x1="532.10" y1="383.92" x2="534.70" y2="383.92" stroke="#333" stroke-width="0.8"/>
<line x1="532.10" y1="388.60" x2="534.70" y2="388.60" stroke="#333" stroke-width="0.8"/>
<line x1="532.10" y1="393.29" x2="534.70" y2="393.29" stroke="#333" stroke-width="0.8"/>
<line x1="529.20" y1="397.97" x2="534.70" y2="397.97" stroke="#333" stroke-width="0.8"/>
<text x="527.0" y="402.275" font-size="9.7" fill="#222" font-family='"Liberation Sans", sans-serif' text-anchor="end" textLength="15.6" lengthAdjust="spacingAndGlyphs">220</text>
<line x1="532.10" y1="402.66" x2="534.70" y2="402.66" stroke="#333" stroke-width="0.8"/>
<line x1="532.10" y1="407.34" x2="534.70" y2="407.34" stroke="#333" stroke-width="0.8"/>
<line x1="532.10" y1="412.03" x2="534.70" y2="412.03" stroke="#333" stroke-width="0.8"/>
<line x1="532.10" y1="416.71" x2="534.70" y2="416.71" stroke="#333" stroke-width="0.8"/>
<line x1="529.20" y1="421.40" x2="534.70" y2="421.40" stroke="#333" stroke-width="0.8"/>
<text x="527.0" y="425.7" font-size="9.7" fill="#222" font-family='"Liberation Sans", sans-serif' text-anchor="end" textLength="15.6" lengthAdjust="spacingAndGlyphs">200</text>
<line x1="532.10" y1="426.12" x2="534.70" y2="426.12" stroke="#333" stroke-width="0.8"/>
<line x1="532.10" y1="430.84" x2="534.70" y2="430.84" stroke="#333" stroke-width="0.8"/>
<line x1="532.10" y1="435.56" x2="534.70" y2="435.56" stroke="#333" stroke-width="0.8"/>
<line x1="532.10" y1="440.28" x2="534.70" y2="440.28" stroke="#333" stroke-width="0.8"/>
<line x1="529.20" y1="445.00" x2="534.70" y2="445.00" stroke="#333" stroke-width="0.8"/>
<text x="527.0" y="449.3" font-size="9.7" fill="#222" font-family='"Liberation Sans", sans-serif' text-anchor="end" textLength="15.6" lengthAdjust="spacingAndGlyphs">180</text>
<line x1="532.10" y1="449.64" x2="534.70" y2="449.64" stroke="#333" stroke-width="0.8"/>
<line x1="532.10" y1="454.28" x2="534.70" y2="454.28" stroke="#333" stroke-width="0.8"/>
<line x1="532.10" y1="458.92" x2="534.70" y2="458.92" stroke="#333" stroke-width="0.8"/>
<line x1="532.10" y1="463.56" x2="534.70" y2="463.56" stroke="#333" stroke-width="0.8"/>
<line x1="529.20" y1="468.20" x2="534.70" y2="468.20" stroke="#333" stroke-width="0.8"/>
<text x="527.0" y="472.5" font-size="9.7" fill="#222" font-family='"Liberation Sans", sans-serif' text-anchor="end" textLength="15.6" lengthAdjust="spacingAndGlyphs">160</text>
<line x1="532.10" y1="472.84" x2="534.70" y2="472.84" stroke="#333" stroke-width="0.8"/>
<line x1="532.10" y1="477.48" x2="534.70" y2="477.48" stroke="#333" stroke-width="0.8"/>
<line x1="532.10" y1="482.12" x2="534.70" y2="482.12" stroke="#333" stroke-width="0.8"/>
<line x1="532.10" y1="486.76" x2="534.70" y2="486.76" stroke="#333" stroke-width="0.8"/>
<line x1="529.20" y1="491.40" x2="534.70" y2="491.40" stroke="#333" stroke-width="0.8"/>
<text x="527.0" y="495.7" font-size="9.7" fill="#222" font-family='"Liberation Sans", sans-serif' text-anchor="end" textLength="15.6" lengthAdjust="spacingAndGlyphs">140</text>
<line x1="532.10" y1="495.96" x2="534.70" y2="495.96" stroke="#333" stroke-width="0.8"/>
<line x1="532.10" y1="500.52" x2="534.70" y2="500.52" stroke="#333" stroke-width="0.8"/>
<line x1="532.10" y1="505.08" x2="534.70" y2="505.08" stroke="#333" stroke-width="0.8"/>
<line x1="532.10" y1="509.64" x2="534.70" y2="509.64" stroke="#333" stroke-width="0.8"/>
<line x1="529.20" y1="514.20" x2="534.70" y2="514.20" stroke="#333" stroke-width="0.8"/>
<text x="527.0" y="518.5" font-size="9.7" fill="#222" font-family='"Liberation Sans", sans-serif' text-anchor="end" textLength="15.6" lengthAdjust="spacingAndGlyphs">120</text>
<line x1="532.10" y1="518.84" x2="534.70" y2="518.84" stroke="#333" stroke-width="0.8"/>
<line x1="532.10" y1="523.48" x2="534.70" y2="523.48" stroke="#333" stroke-width="0.8"/>
<line x1="532.10" y1="528.12" x2="534.70" y2="528.12" stroke="#333" stroke-width="0.8"/>
<line x1="532.10" y1="532.76" x2="534.70" y2="532.76" stroke="#333" stroke-width="0.8"/>
<line x1="529.20" y1="537.40" x2="534.70" y2="537.40" stroke="#333" stroke-width="0.8"/>
<text x="527.0" y="541.6999999999999" font-size="9.7" fill="#222" font-family='"Liberation Sans", sans-serif' text-anchor="end" textLength="15.6" lengthAdjust="spacingAndGlyphs">100</text>
<line x1="532.10" y1="542.00" x2="534.70" y2="542.00" stroke="#333" stroke-width="0.8"/>
<line x1="532.10" y1="546.60" x2="534.70" y2="546.60" stroke="#333" stroke-width="0.8"/>
<line x1="532.10" y1="551.20" x2="534.70" y2="551.20" stroke="#333" stroke-width="0.8"/>
<line x1="532.10" y1="555.80" x2="534.70" y2="555.80" stroke="#333" stroke-width="0.8"/>
<line x1="529.20" y1="560.40" x2="534.70" y2="560.40" stroke="#333" stroke-width="0.8"/>
<text x="527.0" y="564.6999999999999" font-size="9.7" fill="#222" font-family='"Liberation Sans", sans-serif' text-anchor="end" textLength="10.4" lengthAdjust="spacingAndGlyphs">80</text>
<line x1="532.10" y1="565.06" x2="534.70" y2="565.06" stroke="#333" stroke-width="0.8"/>
<line x1="532.10" y1="569.72" x2="534.70" y2="569.72" stroke="#333" stroke-width="0.8"/>
<line x1="532.10" y1="574.38" x2="534.70" y2="574.38" stroke="#333" stroke-width="0.8"/>
<line x1="532.10" y1="579.04" x2="534.70" y2="579.04" stroke="#333" stroke-width="0.8"/>
<line x1="529.20" y1="583.70" x2="534.70" y2="583.70" stroke="#333" stroke-width="0.8"/>
<text x="527.0" y="588.0" font-size="9.7" fill="#222" font-family='"Liberation Sans", sans-serif' text-anchor="end" textLength="10.4" lengthAdjust="spacingAndGlyphs">60</text>
<text x="562.5" y="117.60000000000001" font-size="9.2" fill="#222" font-family='"Liberation Sans", sans-serif'>N1</text>
<text x="562.5" y="171.2" font-size="9.2" fill="#222" font-family='"Liberation Sans", sans-serif'>R1</text>
<text x="562.5" y="193.5" font-size="9.2" fill="#222" font-family='"Liberation Sans", sans-serif'>N2</text>
<text x="562.5" y="219.2" font-size="9.2" fill="#222" font-family='"Liberation Sans", sans-serif'>R2</text>
<text x="562.5" y="234.7" font-size="9.2" fill="#222" font-family='"Liberation Sans", sans-serif'>N3</text>
<text x="562.5" y="271.9" font-size="9.2" fill="#222" font-family='"Liberation Sans", sans-serif'>R3</text>
<text x="562.5" y="329.59999999999997" font-size="9.2" fill="#222" font-family='"Liberation Sans", sans-serif'>N4</text>
<text x="562.5" y="374.2" font-size="9.2" fill="#222" font-family='"Liberation Sans", sans-serif'>R4</text>
<text x="562.5" y="403.9" font-size="9.2" fill="#222" font-family='"Liberation Sans", sans-serif'>N5</text>
<text x="562.5" y="422.9" font-size="9.2" fill="#222" font-family='"Liberation Sans", sans-serif'>R5</text>
<text x="562.5" y="434.09999999999997" font-size="9.2" fill="#222" font-family='"Liberation Sans", sans-serif'>N6</text>
<text x="562.5" y="445.7" font-size="9.2" fill="#222" font-family='"Liberation Sans", sans-serif'>R6</text>
<text x="562.5" y="470.0" font-size="9.2" fill="#222" font-family='"Liberation Sans", sans-serif'>N7</text>
<text x="562.5" y="493.0" font-size="9.2" fill="#222" font-family='"Liberation Sans", sans-serif'>R7</text>
<text x="562.5" y="536.3000000000001" font-size="9.2" fill="#222" font-family='"Liberation Sans", sans-serif'>N8</text>
<text x="562.5" y="583.8000000000001" font-size="9.2" fill="#222" font-family='"Liberation Sans", sans-serif'>R8</text>
<line x1="561.0" y1="58.5" x2="589.0" y2="54.0" stroke="#222" stroke-width="0.75" stroke-dasharray="6.6 14"/>
<line x1="561.0" y1="162.5" x2="589.5" y2="174.5" stroke="#222" stroke-width="0.75" stroke-dasharray="5 7"/>
<line x1="561.0" y1="221.5" x2="589.5" y2="237.0" stroke="#222" stroke-width="0.75" stroke-dasharray="5 7"/>
<line x1="561.0" y1="292.9" x2="589.5" y2="289.0" stroke="#222" stroke-width="0.75" stroke-dasharray="5 7"/>
<line x1="561.0" y1="381.6" x2="589.5" y2="369.6" stroke="#222" stroke-width="0.75" stroke-dasharray="5 7"/>
<line x1="561.6" y1="442.6" x2="589.0" y2="440.9" stroke="#222" stroke-width="0.75" stroke-dasharray="5 7"/>
<line x1="561.6" y1="490.0" x2="589.0" y2="484.5" stroke="#222" stroke-width="0.75" stroke-dasharray="5 7"/>
<line x1="561.0" y1="572.5" x2="588.6" y2="521.0" stroke="#222" stroke-width="0.75" stroke-dasharray="4.5 6"/>
<text x="596.6" y="11.0" font-size="12" fill="#111" font-family='"Liberation Sans", sans-serif' textLength="50.8" lengthAdjust="spacingAndGlyphs">GTS2016</text>
<text x="657.4" y="13.0" font-size="10.5" fill="#111" font-family='"Liberation Sans", sans-serif' textLength="21.9" lengthAdjust="spacingAndGlyphs">(Ma)</text>
<rect x="589.20" y="18.40" width="26.50" height="583.90" fill="#fff" stroke="none" stroke-width="1"/>
<rect x="589.20" y="26.10" width="26.50" height="21.40" fill="#000" stroke="none" stroke-width="1"/>
<rect x="589.20" y="54.10" width="26.50" height="120.00" fill="#000" stroke="none" stroke-width="1"/>
<rect x="589.20" y="187.20" width="26.50" height="3.30" fill="#000" stroke="none" stroke-width="1"/>
<rect x="589.20" y="237.70" width="26.50" height="6.90" fill="#000" stroke="none" stroke-width="1"/>
<rect x="589.20" y="290.00" width="26.50" height="13.30" fill="#000" stroke="none" stroke-width="1"/>
<rect x="589.20" y="316.40" width="26.50" height="21.80" fill="#000" stroke="none" stroke-width="1"/>
<rect x="589.20" y="368.70" width="26.50" height="3.70" fill="#000" stroke="none" stroke-width="1"/>
<rect x="589.20" y="378.20" width="26.50" height="6.90" fill="#000" stroke="none" stroke-width="1"/>
<rect x="589.20" y="402.70" width="26.50" height="16.40" fill="#000" stroke="none" stroke-width="1"/>
<rect x="589.20" y="441.50" width="26.50" height="26.70" fill="#000" stroke="none" stroke-width="1"/>
<rect x="589.20" y="484.50" width="26.50" height="35.90" fill="#000" stroke="none" stroke-width="1"/>
<rect x="589.20" y="532.70" width="26.50" height="49.80" fill="#000" stroke="none" stroke-width="1"/>
<line x1="589.20" y1="18.40" x2="589.20" y2="602.30" stroke="#555" stroke-width="0.8"/>
<line x1="615.70" y1="18.40" x2="615.70" y2="602.30" stroke="#777" stroke-width="0.8"/>
<line x1="662.80" y1="18.40" x2="662.80" y2="602.30" stroke="#222" stroke-width="0.9"/>
<line x1="589.20" y1="18.40" x2="662.80" y2="18.40" stroke="#222" stroke-width="0.9"/>
<line x1="589.20" y1="602.30" x2="662.80" y2="602.30" stroke="#222" stroke-width="0.9"/>
<line x1="589.20" y1="26.10" x2="662.80" y2="26.10" stroke="#222" stroke-width="0.8"/>
<line x1="615.70" y1="47.80" x2="662.80" y2="47.80" stroke="#333" stroke-width="0.8"/>
<line x1="615.70" y1="54.10" x2="662.80" y2="54.10" stroke="#333" stroke-width="0.8"/>
<line x1="615.70" y1="174.60" x2="662.80" y2="174.60" stroke="#333" stroke-width="0.8"/>
<line x1="615.70" y1="187.70" x2="662.80" y2="187.70" stroke="#333" stroke-width="0.8"/>
<line x1="615.70" y1="237.70" x2="662.80" y2="237.70" stroke="#333" stroke-width="0.8"/>
<line x1="615.70" y1="290.00" x2="662.80" y2="290.00" stroke="#333" stroke-width="0.8"/>
<line x1="615.70" y1="303.60" x2="662.80" y2="303.60" stroke="#333" stroke-width="0.8"/>
<line x1="615.70" y1="338.50" x2="662.80" y2="338.50" stroke="#333" stroke-width="0.8"/>
<line x1="615.70" y1="378.40" x2="662.80" y2="378.40" stroke="#333" stroke-width="0.8"/>
<line x1="615.70" y1="402.40" x2="662.80" y2="402.40" stroke="#333" stroke-width="0.8"/>
<line x1="615.70" y1="419.40" x2="662.80" y2="419.40" stroke="#333" stroke-width="0.8"/>
<line x1="615.70" y1="441.00" x2="662.80" y2="441.00" stroke="#333" stroke-width="0.8"/>
<line x1="615.70" y1="468.20" x2="662.80" y2="468.20" stroke="#333" stroke-width="0.8"/>
<line x1="615.70" y1="484.30" x2="662.80" y2="484.30" stroke="#333" stroke-width="0.8"/>
<line x1="615.70" y1="520.40" x2="662.80" y2="520.40" stroke="#333" stroke-width="0.8"/>
<line x1="615.70" y1="532.50" x2="662.80" y2="532.50" stroke="#333" stroke-width="0.8"/>
<line x1="615.70" y1="582.40" x2="662.80" y2="582.40" stroke="#333" stroke-width="0.8"/>
<line x1="615.70" y1="315.80" x2="662.80" y2="315.80" stroke="#999" stroke-width="0.8"/>
<line x1="581.40" y1="54.10" x2="589.20" y2="54.10" stroke="#333" stroke-width="0.7"/>
<path d="M615.7,190.5 L623.0,198.6 L655.5,198.6 L662.8,190.5" fill="none" stroke="#333" stroke-width="0.8"/>
<path d="M615.7,242.0 L623.0,248.6 L655.5,248.6 L662.8,242.0" fill="none" stroke="#333" stroke-width="0.8"/>
<path d="M615.7,370.3 L620.3000000000001,364.4 L657.0999999999999,364.4 L661.6999999999999,370.3 L657.5999999999999,375.4 L620.3000000000001,375.4 Z" fill="#fff" stroke="#333" stroke-width="0.8"/>
<line x1="615.70" y1="386.30" x2="660.70" y2="386.30" stroke="#333" stroke-width="0.8"/>
<text x="624.5" y="43.0" font-size="10.6" fill="#111" font-family='"Liberation Sans", sans-serif'>C5n.1n</text>
<text x="624.5" y="55.2" font-size="10.6" fill="#111" font-family='"Liberation Sans", sans-serif'>C5n.1r</text>
<text x="624.5" y="111.5" font-size="10.6" fill="#111" font-family='"Liberation Sans", sans-serif'>C5n.2n</text>
<text x="621.9" y="184.89999999999998" font-size="10.6" fill="#111" font-family='"Liberation Sans", sans-serif'>C5r.1r</text>
<text x="622.6" y="196.39999999999998" font-size="10.6" fill="#111" font-family='"Liberation Sans", sans-serif'>C5r.1n</text>
<text x="623.2" y="223.0" font-size="10.6" fill="#111" font-family='"Liberation Sans", sans-serif'>C5r.2r</text>
<text x="622.6" y="246.7" font-size="10.6" fill="#111" font-family='"Liberation Sans", sans-serif'>C5r.2n</text>
<text x="623.2" y="272.4" font-size="10.6" fill="#111" font-family='"Liberation Sans", sans-serif'>C5r.3r</text>
<text x="619.0" y="299.7" font-size="10.6" fill="#111" font-family='"Liberation Sans", sans-serif'>C5An.1n</text>
<text x="619.3" y="313.7" font-size="10.6" fill="#111" font-family='"Liberation Sans", sans-serif'>C5An.1r</text>
<text x="619.9" y="330.09999999999997" font-size="10.6" fill="#111" font-family='"Liberation Sans", sans-serif'>C5An.2n</text>
<text x="620.6" y="356.4" font-size="10.6" fill="#111" font-family='"Liberation Sans", sans-serif'>C5Ar.1r</text>
<text x="620.3" y="374.0" font-size="10.6" fill="#111" font-family='"Liberation Sans", sans-serif'>C5Ar.1n</text>
<text x="620.0" y="386.0" font-size="10.6" fill="#111" font-family='"Liberation Sans", sans-serif'>C5Ar.2n</text>
<text x="623.6" y="414.0" font-size="10.6" fill="#111" font-family='"Liberation Sans", sans-serif'>C5AAn</text>
<text x="623.6" y="434.59999999999997" font-size="10.6" fill="#111" font-family='"Liberation Sans", sans-serif'>C5AAr</text>
<text x="623.6" y="455.9" font-size="10.6" fill="#111" font-family='"Liberation Sans", sans-serif'>C5ABn</text>
<text x="623.6" y="479.2" font-size="10.6" fill="#111" font-family='"Liberation Sans", sans-serif'>C5ABr</text>
<text x="623.7" y="506.0" font-size="10.6" fill="#111" font-family='"Liberation Sans", sans-serif'>C5ACn</text>
<text x="623.7" y="529.8000000000001" font-size="10.6" fill="#111" font-family='"Liberation Sans", sans-serif'>C5ACr</text>
<text x="623.7" y="560.3000000000001" font-size="10.6" fill="#111" font-family='"Liberation Sans", sans-serif'>C5ADn</text>
<text x="623.7" y="592.8000000000001" font-size="10.6" fill="#111" font-family='"Liberation Sans", sans-serif'>C5ADr</text>
<line x1="662.80" y1="18.80" x2="667.80" y2="18.80" stroke="#333" stroke-width="0.8"/>
<line x1="662.80" y1="29.01" x2="667.80" y2="29.01" stroke="#333" stroke-width="0.8"/>
<line x1="662.80" y1="40.61" x2="667.80" y2="40.61" stroke="#333" stroke-width="0.8"/>
<line x1="662.80" y1="52.20" x2="671.00" y2="52.20" stroke="#333" stroke-width="0.8"/>
<text x="672.5" y="55.800000000000004" font-size="10" fill="#222" font-family='"Liberation Sans", sans-serif'>10</text>
<line x1="662.80" y1="63.79" x2="667.80" y2="63.79" stroke="#333" stroke-width="0.8"/>
<line x1="662.80" y1="75.39" x2="667.80" y2="75.39" stroke="#333" stroke-width="0.8"/>
<line x1="662.80" y1="86.99" x2="667.80" y2="86.99" stroke="#333" stroke-width="0.8"/>
<line x1="662.80" y1="98.58" x2="667.80" y2="98.58" stroke="#333" stroke-width="0.8"/>
<line x1="662.80" y1="110.18" x2="667.80" y2="110.18" stroke="#333" stroke-width="0.8"/>
<line x1="662.80" y1="121.77" x2="667.80" y2="121.77" stroke="#333" stroke-width="0.8"/>
<line x1="662.80" y1="133.36" x2="667.80" y2="133.36" stroke="#333" stroke-width="0.8"/>
<line x1="662.80" y1="144.96" x2="667.80" y2="144.96" stroke="#333" stroke-width="0.8"/>
<line x1="662.80" y1="156.56" x2="667.80" y2="156.56" stroke="#333" stroke-width="0.8"/>
<line x1="662.80" y1="168.15" x2="671.00" y2="168.15" stroke="#333" stroke-width="0.8"/>
<text x="672.5" y="171.75" font-size="10" fill="#222" font-family='"Liberation Sans", sans-serif'>11</text>
<line x1="662.80" y1="179.74" x2="667.80" y2="179.74" stroke="#333" stroke-width="0.8"/>
<line x1="662.80" y1="191.34" x2="667.80" y2="191.34" stroke="#333" stroke-width="0.8"/>
<line x1="662.80" y1="202.94" x2="667.80" y2="202.94" stroke="#333" stroke-width="0.8"/>
<line x1="662.80" y1="214.53" x2="667.80" y2="214.53" stroke="#333" stroke-width="0.8"/>
<line x1="662.80" y1="226.12" x2="667.80" y2="226.12" stroke="#333" stroke-width="0.8"/>
<line x1="662.80" y1="237.72" x2="667.80" y2="237.72" stroke="#333" stroke-width="0.8"/>
<line x1="662.80" y1="249.31" x2="667.80" y2="249.31" stroke="#333" stroke-width="0.8"/>
<line x1="662.80" y1="260.91" x2="667.80" y2="260.91" stroke="#333" stroke-width="0.8"/>
<line x1="662.80" y1="272.51" x2="667.80" y2="272.51" stroke="#333" stroke-width="0.8"/>
<line x1="662.80" y1="284.10" x2="671.00" y2="284.10" stroke="#333" stroke-width="0.8"/>
<text x="672.5" y="287.70000000000005" font-size="10" fill="#222" font-family='"Liberation Sans", sans-serif'>12</text>
<line x1="662.80" y1="295.69" x2="667.80" y2="295.69" stroke="#333" stroke-width="0.8"/>
<line x1="662.80" y1="307.29" x2="667.80" y2="307.29" stroke="#333" stroke-width="0.8"/>
<line x1="662.80" y1="318.89" x2="667.80" y2="318.89" stroke="#333" stroke-width="0.8"/>
<line x1="662.80" y1="330.48" x2="667.80" y2="330.48" stroke="#333" stroke-width="0.8"/>
<line x1="662.80" y1="342.07" x2="667.80" y2="342.07" stroke="#333" stroke-width="0.8"/>
<line x1="662.80" y1="353.67" x2="667.80" y2="353.67" stroke="#333" stroke-width="0.8"/>
<line x1="662.80" y1="365.26" x2="667.80" y2="365.26" stroke="#333" stroke-width="0.8"/>
<line x1="662.80" y1="376.86" x2="667.80" y2="376.86" stroke="#333" stroke-width="0.8"/>
<line x1="662.80" y1="388.46" x2="667.80" y2="388.46" stroke="#333" stroke-width="0.8"/>
<line x1="662.80" y1="400.05" x2="671.00" y2="400.05" stroke="#333" stroke-width="0.8"/>
<text x="672.5" y="403.65000000000003" font-size="10" fill="#222" font-family='"Liberation Sans", sans-serif'>13</text>
<line x1="662.80" y1="411.64" x2="667.80" y2="411.64" stroke="#333" stroke-width="0.8"/>
<line x1="662.80" y1="423.24" x2="667.80" y2="423.24" stroke="#333" stroke-width="0.8"/>
<line x1="662.80" y1="434.84" x2="667.80" y2="434.84" stroke="#333" stroke-width="0.8"/>
<line x1="662.80" y1="446.43" x2="667.80" y2="446.43" stroke="#333" stroke-width="0.8"/>
<line x1="662.80" y1="458.02" x2="667.80" y2="458.02" stroke="#333" stroke-width="0.8"/>
<line x1="662.80" y1="469.62" x2="667.80" y2="469.62" stroke="#333" stroke-width="0.8"/>
<line x1="662.80" y1="481.21" x2="667.80" y2="481.21" stroke="#333" stroke-width="0.8"/>
<line x1="662.80" y1="492.81" x2="667.80" y2="492.81" stroke="#333" stroke-width="0.8"/>
<line x1="662.80" y1="504.41" x2="667.80" y2="504.41" stroke="#333" stroke-width="0.8"/>
<line x1="662.80" y1="516.00" x2="671.00" y2="516.00" stroke="#333" stroke-width="0.8"/>
<text x="672.5" y="519.6" font-size="10" fill="#222" font-family='"Liberation Sans", sans-serif'>14</text>
<line x1="662.80" y1="527.60" x2="667.80" y2="527.60" stroke="#333" stroke-width="0.8"/>
<line x1="662.80" y1="539.19" x2="667.80" y2="539.19" stroke="#333" stroke-width="0.8"/>
<line x1="662.80" y1="550.79" x2="667.80" y2="550.79" stroke="#333" stroke-width="0.8"/>
<line x1="662.80" y1="562.38" x2="667.80" y2="562.38" stroke="#333" stroke-width="0.8"/>
<line x1="662.80" y1="573.98" x2="667.80" y2="573.98" stroke="#333" stroke-width="0.8"/>
<line x1="662.80" y1="585.57" x2="667.80" y2="585.57" stroke="#333" stroke-width="0.8"/>
<line x1="662.80" y1="597.16" x2="667.80" y2="597.16" stroke="#333" stroke-width="0.8"/>
<rect x="1.20" y="526.60" width="33.40" height="15.80" fill="#d65c2e" stroke="#444" stroke-width="0.8"/>
<text x="42.0" y="532.3" font-size="10.4" fill="#222" font-family='"Liberation Serif", serif' textLength="47.4" lengthAdjust="spacingAndGlyphs">Red-brown</text>
<text x="44.7" y="545.0" font-size="10.4" fill="#222" font-family='"Liberation Serif", serif' textLength="40.8" lengthAdjust="spacingAndGlyphs">mudstone</text>
<rect x="101.40" y="526.20" width="33.40" height="15.40" fill="#8cc63f" stroke="#444" stroke-width="0.8"/>
<line x1="101.40" y1="525.60" x2="134.80" y2="525.60" stroke="#999" stroke-width="1.0"/>
<text x="143.7" y="532.8" font-size="10.4" fill="#222" font-family='"Liberation Serif", serif' textLength="59.9" lengthAdjust="spacingAndGlyphs">Greyish-green</text>
<text x="151.4" y="545.6" font-size="10.4" fill="#222" font-family='"Liberation Serif", serif' textLength="40.8" lengthAdjust="spacingAndGlyphs">mudstone</text>
<rect x="212.20" y="526.70" width="33.50" height="15.40" fill="#8cc63f" stroke="#444" stroke-width="0.8"/>
<path d="M222.5,532.8 L241.2,532.1 L222.5,536.9 Z" fill="none" stroke="#222" stroke-width="0.7"/>
<path d="M226.5,532.7 L226.5,535.9 M230.5,532.5 L230.5,534.9" stroke="#222" stroke-width="0.5"/>
<text x="255.9" y="532.8" font-size="10.4" fill="#222" font-family='"Liberation Serif", serif' textLength="103.7" lengthAdjust="spacingAndGlyphs">Greyish-green mudstone</text>
<text x="263.4" y="545.6" font-size="10.4" fill="#222" font-family='"Liberation Serif", serif' textLength="84.6" lengthAdjust="spacingAndGlyphs">with gypsum crystal</text>
<rect x="366.00" y="525.60" width="34.00" height="15.50" fill="#d8df20" stroke="#666" stroke-width="0.8"/>
<text x="405.7" y="533.3" font-size="10.4" fill="#222" font-family='"Liberation Serif", serif' textLength="81.2" lengthAdjust="spacingAndGlyphs">Light gray green or</text>
<text x="405.7" y="545.7" font-size="10.4" fill="#222" font-family='"Liberation Serif", serif' textLength="94.3" lengthAdjust="spacingAndGlyphs">light yellow mudstone</text>
<rect x="1.20" y="558.40" width="33.40" height="16.40" fill="#e6e6e6" stroke="#777" stroke-width="0.9"/>
<text x="4.5" y="571.5" font-size="11" font-style="italic" fill="#333" font-family='"Liberation Serif", serif'>0</text>
<circle cx="11.6" cy="571.0" r="0.8" fill="#222"/><circle cx="16.2" cy="568.3" r="0.7" fill="#222"/><circle cx="27.6" cy="568.3" r="0.7" fill="#222"/>
<text x="18.5" y="571.3" font-size="8" font-style="italic" fill="#333" font-family='"Liberation Serif", serif'>o</text>
<text x="41.7" y="560.9" font-size="10.4" fill="#222" font-family='"Liberation Serif", serif' textLength="25.5" lengthAdjust="spacingAndGlyphs">sandy</text>
<text x="41.7" y="574.0" font-size="10.4" fill="#222" font-family='"Liberation Serif", serif' textLength="56.4" lengthAdjust="spacingAndGlyphs">conglomerate</text>
<rect x="106.50" y="558.40" width="33.20" height="15.10" fill="#8cc63f" stroke="#444" stroke-width="0.8"/>
<circle cx="110.8" cy="566.2" r="0.85" fill="#000"/>
<circle cx="116.9" cy="566.2" r="0.85" fill="#000"/>
<circle cx="123.0" cy="566.2" r="0.85" fill="#000"/>
<circle cx="129.2" cy="566.2" r="0.85" fill="#000"/>
<circle cx="135.3" cy="566.2" r="0.85" fill="#000"/>
<text x="144.6" y="563.5" font-size="10.4" fill="#222" font-family='"Liberation Serif", serif' textLength="59.9" lengthAdjust="spacingAndGlyphs">Greyish-green</text>
<text x="144.6" y="576.5" font-size="10.4" fill="#222" font-family='"Liberation Serif", serif' textLength="81.0" lengthAdjust="spacingAndGlyphs">sandstone/siltstone</text>
<rect x="236.50" y="564.40" width="33.20" height="5.80" fill="#e4e4e4" stroke="#888" stroke-width="0.8"/>
<text x="272.0" y="564.4" font-size="10.4" fill="#222" font-family='"Liberation Serif", serif' textLength="52.6" lengthAdjust="spacingAndGlyphs">sandstone or</text>
<text x="279.7" y="576.8" font-size="10.4" fill="#222" font-family='"Liberation Serif", serif' textLength="34.6" lengthAdjust="spacingAndGlyphs">siltstone</text>
<rect x="343.00" y="556.80" width="33.40" height="16.60" fill="#c2c2c2" stroke="#555" stroke-width="0.8"/>
<path d="M343,565.2 L352.4,565.2 M354.8,565.2 L358.4,565.2 M361.4,565.2 L365,565.2 M367.6,565.2 L376.4,565.2" stroke="#333" stroke-width="0.8"/>
<text x="380.4" y="562.7" font-size="10.4" fill="#222" font-family='"Liberation Serif", serif' textLength="76.7" lengthAdjust="spacingAndGlyphs">gray or gray black</text>
<text x="388.4" y="575.6" font-size="10.4" fill="#222" font-family='"Liberation Serif", serif' textLength="63.3" lengthAdjust="spacingAndGlyphs">mudstone/marl</text>
</svg>
</body></html>
